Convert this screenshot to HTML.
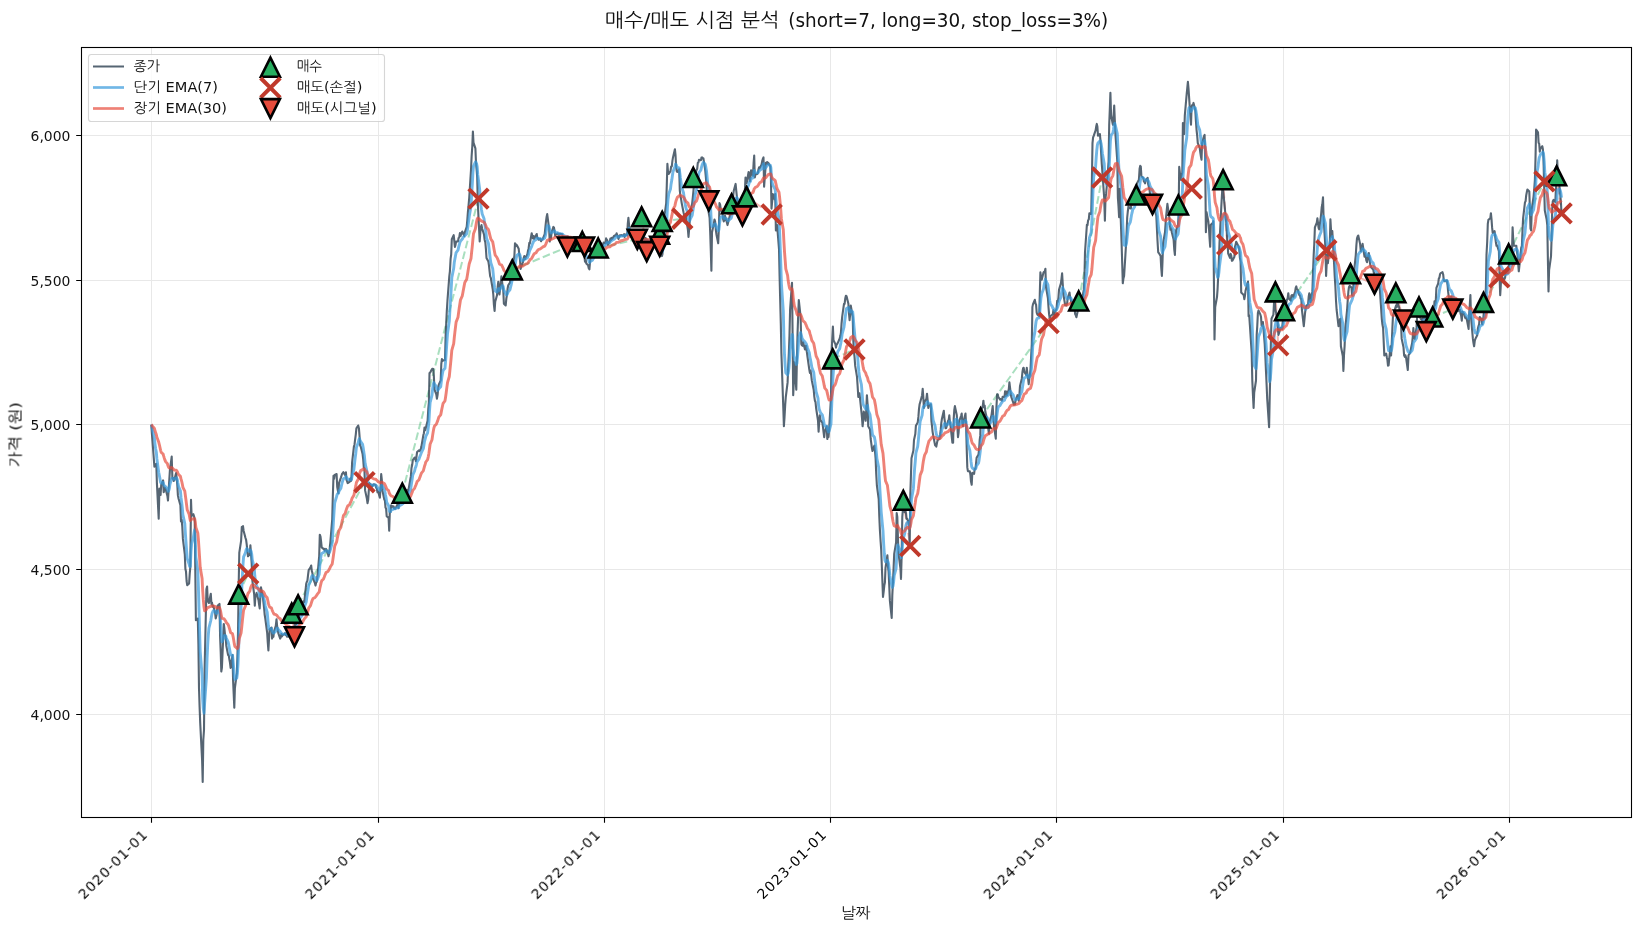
<!DOCTYPE html><html><head><meta charset="utf-8"><title>chart</title><style>html,body{margin:0;padding:0;background:#fff}svg{display:block}</style></head><body><svg width="1641" height="930" viewBox="0 0 1641 930" font-family='"DejaVu Sans","Liberation Sans","NanumGothic","Noto Sans CJK KR",sans-serif'>
<rect width="1641" height="930" fill="#fff"/>
<path d="M151.5,47.5V817.5M378.5,47.5V817.5M604.5,47.5V817.5M830.5,47.5V817.5M1056.5,47.5V817.5M1283.5,47.5V817.5M1509.5,47.5V817.5M81.5,714.5H1631.5M81.5,569.5H1631.5M81.5,424.5H1631.5M81.5,280.5H1631.5M81.5,135.5H1631.5" stroke="#e8e8e8" stroke-width="1" fill="none"/>
<clipPath id="c"><rect x="81.5" y="47.5" width="1550.0" height="770.0"/></clipPath><g clip-path="url(#c)">
<line x1="238.7" y1="594.1" x2="248.2" y2="573.7" stroke="#27ae60" stroke-opacity="0.4" stroke-width="2" stroke-dasharray="7.7,3.3"/>
<line x1="291.7" y1="613.2" x2="294.5" y2="636.8" stroke="#e74c3c" stroke-opacity="0.4" stroke-width="2" stroke-dasharray="7.7,3.3"/>
<line x1="298.1" y1="604.8" x2="364.5" y2="482.2" stroke="#27ae60" stroke-opacity="0.4" stroke-width="2" stroke-dasharray="7.7,3.3"/>
<line x1="402.3" y1="493.2" x2="478.5" y2="198.6" stroke="#27ae60" stroke-opacity="0.4" stroke-width="2" stroke-dasharray="7.7,3.3"/>
<line x1="512.3" y1="269.9" x2="567.4" y2="247" stroke="#27ae60" stroke-opacity="0.4" stroke-width="2" stroke-dasharray="7.7,3.3"/>
<line x1="582.3" y1="241.5" x2="584.5" y2="247" stroke="#e74c3c" stroke-opacity="0.4" stroke-width="2" stroke-dasharray="7.7,3.3"/>
<line x1="598.2" y1="248" x2="637.3" y2="239.3" stroke="#27ae60" stroke-opacity="0.4" stroke-width="2" stroke-dasharray="7.7,3.3"/>
<line x1="641.6" y1="216.8" x2="646.7" y2="251.6" stroke="#e74c3c" stroke-opacity="0.4" stroke-width="2" stroke-dasharray="7.7,3.3"/>
<line x1="659.5" y1="234.2" x2="659.7" y2="246.3" stroke="#e74c3c" stroke-opacity="0.4" stroke-width="2" stroke-dasharray="7.7,3.3"/>
<line x1="662.2" y1="221.4" x2="682.3" y2="218.7" stroke="#27ae60" stroke-opacity="0.4" stroke-width="2" stroke-dasharray="7.7,3.3"/>
<line x1="693.3" y1="177.5" x2="708.8" y2="200.9" stroke="#e74c3c" stroke-opacity="0.4" stroke-width="2" stroke-dasharray="7.7,3.3"/>
<line x1="731.6" y1="203.8" x2="742.4" y2="215.9" stroke="#e74c3c" stroke-opacity="0.4" stroke-width="2" stroke-dasharray="7.7,3.3"/>
<line x1="746.6" y1="196.7" x2="771.7" y2="214.5" stroke="#e74c3c" stroke-opacity="0.4" stroke-width="2" stroke-dasharray="7.7,3.3"/>
<line x1="832.7" y1="358.9" x2="854.5" y2="349.5" stroke="#27ae60" stroke-opacity="0.4" stroke-width="2" stroke-dasharray="7.7,3.3"/>
<line x1="903.3" y1="500.3" x2="910.2" y2="546" stroke="#e74c3c" stroke-opacity="0.4" stroke-width="2" stroke-dasharray="7.7,3.3"/>
<line x1="980.6" y1="418" x2="1048.6" y2="323" stroke="#27ae60" stroke-opacity="0.4" stroke-width="2" stroke-dasharray="7.7,3.3"/>
<line x1="1078.7" y1="301" x2="1102.1" y2="177.5" stroke="#27ae60" stroke-opacity="0.4" stroke-width="2" stroke-dasharray="7.7,3.3"/>
<line x1="1136.3" y1="195.0" x2="1152.5" y2="204.3" stroke="#e74c3c" stroke-opacity="0.4" stroke-width="2" stroke-dasharray="7.7,3.3"/>
<line x1="1178.4" y1="205.0" x2="1191.7" y2="188.5" stroke="#27ae60" stroke-opacity="0.4" stroke-width="2" stroke-dasharray="7.7,3.3"/>
<line x1="1223.1" y1="179.7" x2="1227.2" y2="244.6" stroke="#e74c3c" stroke-opacity="0.4" stroke-width="2" stroke-dasharray="7.7,3.3"/>
<line x1="1275.4" y1="291.9" x2="1278.2" y2="345.3" stroke="#e74c3c" stroke-opacity="0.4" stroke-width="2" stroke-dasharray="7.7,3.3"/>
<line x1="1284.5" y1="310.8" x2="1326.3" y2="250.3" stroke="#27ae60" stroke-opacity="0.4" stroke-width="2" stroke-dasharray="7.7,3.3"/>
<line x1="1350.5" y1="273.8" x2="1374.5" y2="284.2" stroke="#e74c3c" stroke-opacity="0.4" stroke-width="2" stroke-dasharray="7.7,3.3"/>
<line x1="1395.8" y1="292.8" x2="1403.5" y2="320.0" stroke="#e74c3c" stroke-opacity="0.4" stroke-width="2" stroke-dasharray="7.7,3.3"/>
<line x1="1419" y1="307" x2="1426.3" y2="331.6" stroke="#e74c3c" stroke-opacity="0.4" stroke-width="2" stroke-dasharray="7.7,3.3"/>
<line x1="1432.7" y1="317" x2="1452.8" y2="309.1" stroke="#27ae60" stroke-opacity="0.4" stroke-width="2" stroke-dasharray="7.7,3.3"/>
<line x1="1483.5" y1="302.4" x2="1499.3" y2="277.3" stroke="#27ae60" stroke-opacity="0.4" stroke-width="2" stroke-dasharray="7.7,3.3"/>
<line x1="1508.6" y1="253.9" x2="1544.4" y2="181.4" stroke="#27ae60" stroke-opacity="0.4" stroke-width="2" stroke-dasharray="7.7,3.3"/>
<line x1="1556.6" y1="175.8" x2="1561.6" y2="213.4" stroke="#e74c3c" stroke-opacity="0.4" stroke-width="2" stroke-dasharray="7.7,3.3"/>
<path d="M151.3,424.6 L151.9,433.6 L152.5,441.1 L154.4,466.7 L155.0,465.3 L155.6,464.2 L156.3,463.9 L156.9,483.1 L158.7,518.8 L159.4,488.6 L160.0,489.4 L160.6,495.0 L161.2,485.0 L163.1,480.4 L163.7,492.3 L164.3,489.3 L164.9,487.7 L165.6,489.0 L167.4,495.9 L168.0,500.5 L168.6,490.4 L169.3,480.0 L169.9,470.3 L171.7,456.6 L172.4,478.6 L173.0,477.9 L173.6,480.9 L174.2,480.4 L176.1,473.1 L176.7,478.6 L177.3,485.0 L177.9,495.4 L178.6,498.7 L180.4,505.1 L181.0,521.5 L181.7,519.9 L182.3,527.0 L182.9,538.9 L184.8,554.4 L185.4,569.1 L186.0,571.6 L186.6,581.0 L187.2,585.2 L189.1,583.4 L189.7,574.3 L190.3,567.3 L191.0,499.9 L191.6,516.0 L193.4,514.2 L194.1,516.5 L194.7,519.7 L195.3,571.5 L195.9,620.3 L197.8,618.5 L198.4,644.1 L199.0,688.0 L199.6,706.9 L200.2,722.7 L202.1,760.0 L202.7,782.0 L203.3,740.0 L204.0,730.0 L204.6,669.7 L206.4,589.3 L207.1,586.5 L207.7,600.2 L208.3,601.9 L208.9,603.0 L210.8,593.8 L211.4,603.9 L212.0,602.6 L212.6,606.7 L213.3,605.7 L215.1,613.0 L215.7,618.5 L216.4,615.5 L217.0,611.1 L217.6,605.7 L219.5,603.9 L220.1,636.8 L220.7,651.7 L221.3,671.5 L221.9,667.9 L223.8,624.0 L224.4,628.5 L225.0,634.6 L225.7,636.8 L226.3,645.9 L228.1,655.1 L228.8,655.6 L229.4,659.6 L230.0,662.8 L230.6,667.9 L232.5,655.1 L233.1,680.7 L233.7,694.0 L234.3,707.7 L234.9,688.0 L236.8,673.3 L237.4,657.1 L238.0,633.1 L238.7,583.8 L239.3,552.6 L241.1,540.8 L241.8,527.0 L242.4,526.8 L243.0,526.1 L243.6,530.7 L245.5,538.0 L246.1,539.8 L246.7,544.4 L247.3,550.4 L248.0,556.3 L249.8,554.4 L250.4,545.3 L251.1,555.3 L251.7,563.6 L252.3,580.0 L254.2,594.7 L254.8,605.7 L255.4,596.6 L256.0,595.5 L256.6,592.9 L258.5,600.2 L259.1,604.7 L259.7,608.4 L260.3,597.8 L261.0,587.4 L262.8,596.6 L263.4,602.0 L264.1,608.1 L264.7,614.8 L265.3,618.5 L267.2,633.1 L267.8,642.8 L268.4,650.5 L269.0,639.2 L269.6,629.5 L271.5,627.6 L272.1,638.6 L272.7,636.1 L273.4,636.8 L274.0,631.5 L275.8,625.8 L276.5,619.4 L277.1,625.8 L277.7,629.5 L278.3,633.1 L280.2,638.6 L280.8,637.2 L281.4,634.0 L282.0,636.4 L282.7,635.0 L284.5,634.1 L285.1,633.1 L285.8,635.1 L286.4,634.3 L287.0,636.8 L288.9,635.8 L289.5,637.1 L290.1,633.2 L290.7,634.0 L291.3,633.1 L293.2,628.7 L293.8,633.7 L294.4,626.6 L295.0,621.9 L295.7,625.0 L297.5,620.3 L298.1,618.6 L298.8,617.0 L299.4,611.8 L300.0,609.8 L301.9,607.2 L302.5,605.7 L303.1,601.6 L303.7,601.0 L304.3,602.0 L306.2,583.8 L306.8,581.9 L307.4,580.8 L308.1,574.6 L308.7,570.0 L310.5,567.3 L311.2,565.5 L311.8,571.0 L312.4,572.8 L313.0,578.3 L314.9,583.1 L315.5,585.6 L316.1,582.7 L316.7,581.9 L317.4,576.5 L319.2,556.0 L319.8,534.7 L320.5,536.7 L321.1,541.6 L321.7,547.4 L323.5,548.9 L324.2,548.9 L324.8,550.8 L325.4,550.1 L326.0,548.9 L327.9,553.5 L328.5,556.3 L329.1,553.8 L329.7,548.6 L330.4,541.6 L332.2,519.7 L332.8,497.1 L333.5,475.8 L334.1,478.8 L334.7,474.9 L336.6,474.0 L337.2,486.8 L337.8,490.4 L338.4,493.2 L339.0,483.1 L340.9,477.6 L341.5,475.7 L342.1,473.7 L342.8,473.1 L343.4,472.2 L345.2,475.1 L345.9,472.2 L346.5,479.8 L347.1,481.3 L347.7,483.1 L349.6,481.9 L350.2,478.6 L350.8,481.0 L351.4,479.5 L352.1,462.5 L353.9,446.6 L354.5,444.7 L355.1,439.7 L355.8,434.3 L356.4,428.3 L358.2,425.5 L358.9,428.2 L359.5,435.6 L360.1,445.5 L360.7,446.6 L362.6,454.1 L363.2,459.4 L363.8,467.3 L364.4,468.5 L365.1,490.4 L366.9,498.8 L367.5,503.2 L368.2,499.9 L368.8,490.4 L369.4,483.1 L371.3,485.4 L371.9,486.8 L372.5,486.0 L373.1,484.7 L373.7,484.2 L375.6,485.0 L376.2,487.9 L376.8,488.6 L377.5,492.3 L378.1,491.4 L379.9,497.8 L380.6,486.5 L381.2,474.0 L381.8,479.7 L382.4,490.4 L384.3,499.6 L384.9,500.5 L385.5,507.6 L386.1,508.7 L386.7,516.2 L388.6,517.9 L389.2,530.7 L389.8,512.4 L390.5,512.2 L391.1,505.4 L392.9,506.9 L393.6,506.4 L394.2,508.6 L394.8,508.7 L395.4,508.6 L397.3,504.8 L397.9,505.1 L398.5,508.3 L399.1,502.9 L399.8,502.3 L401.6,501.4 L402.2,502.5 L402.9,502.4 L403.5,495.6 L404.1,495.4 L406.0,493.4 L406.6,492.1 L407.2,489.9 L407.8,492.3 L408.4,490.4 L410.3,479.5 L410.9,476.2 L411.5,467.9 L412.2,464.8 L412.8,460.1 L414.6,457.5 L415.2,457.8 L415.9,461.2 L416.5,456.5 L417.1,452.0 L419.0,450.4 L419.6,451.1 L420.2,450.0 L420.8,448.9 L421.4,446.6 L423.3,435.3 L423.9,433.2 L424.5,427.5 L425.2,430.3 L425.8,428.0 L427.6,420.7 L428.3,408.9 L428.9,402.4 L429.5,373.1 L430.1,372.7 L432.0,369.1 L432.6,368.7 L433.2,368.9 L433.8,375.0 L434.5,389.6 L436.3,394.3 L436.9,398.7 L437.6,394.9 L438.2,387.8 L438.8,384.6 L440.7,380.4 L441.3,364.0 L441.9,359.1 L442.5,361.1 L443.1,360.3 L445.0,360.3 L445.6,336.6 L446.2,323.9 L446.8,311.0 L447.5,300.0 L449.3,276.3 L449.9,271.3 L450.6,258.9 L451.2,254.3 L451.8,239.3 L453.7,235.1 L454.3,240.9 L454.9,247.0 L455.5,244.9 L456.1,241.5 L458.0,241.4 L458.6,237.9 L459.2,237.7 L459.9,233.1 L460.5,236.0 L462.3,231.5 L463.0,233.4 L463.6,234.2 L464.2,236.0 L464.8,232.4 L466.7,226.9 L467.3,220.1 L467.9,212.0 L468.5,206.1 L469.2,198.0 L471.0,170.0 L471.6,156.6 L472.3,146.3 L472.9,131.5 L473.5,142.6 L475.4,148.3 L476.0,162.9 L476.6,169.4 L477.2,177.5 L477.8,203.1 L479.7,241.5 L480.3,232.4 L480.9,226.9 L481.5,225.1 L482.2,228.7 L484.0,234.4 L484.6,239.7 L485.3,242.2 L485.9,248.8 L486.5,258.0 L488.4,261.6 L489.0,265.6 L489.6,271.3 L490.2,276.3 L490.8,277.8 L492.7,289.0 L493.3,294.5 L493.9,304.7 L494.6,311.0 L495.2,301.8 L497.0,295.3 L497.7,286.7 L498.3,281.7 L498.9,289.5 L499.5,294.5 L501.4,276.3 L502.0,280.9 L502.6,286.3 L503.2,289.0 L503.9,303.7 L505.7,305.5 L506.3,298.8 L507.0,294.5 L507.6,288.8 L508.2,285.4 L510.0,282.7 L510.7,276.3 L511.3,276.0 L511.9,270.6 L512.5,268.9 L514.4,255.5 L515.0,243.3 L515.6,246.2 L516.2,244.5 L516.9,245.2 L518.7,248.8 L519.3,254.3 L520.0,259.5 L520.6,268.9 L521.2,267.0 L523.1,261.6 L523.7,258.0 L524.3,256.1 L524.9,259.2 L525.5,258.0 L527.4,254.2 L528.0,250.7 L528.6,248.5 L529.3,242.9 L529.9,243.3 L531.7,233.3 L532.4,236.5 L533.0,238.4 L533.6,236.0 L534.2,238.9 L536.1,235.1 L536.7,234.0 L537.3,237.9 L537.9,238.1 L538.5,239.7 L540.4,238.8 L541.0,241.3 L541.6,239.8 L542.3,239.7 L542.9,238.7 L544.7,234.2 L545.4,227.1 L546.0,221.4 L546.6,217.0 L547.2,214.1 L549.1,228.7 L549.7,241.5 L550.3,237.5 L550.9,238.8 L551.6,232.4 L553.4,226.9 L554.0,227.6 L554.7,232.4 L555.3,236.0 L555.9,234.2 L557.8,233.4 L558.4,234.8 L559.0,235.1 L559.6,233.9 L560.2,233.9 L562.1,234.2 L562.7,236.0 L563.3,237.6 L564.0,237.8 L564.6,237.1 L566.4,237.9 L567.1,238.0 L567.7,236.7 L568.3,240.2 L568.9,239.9 L570.8,240.5 L571.4,238.8 L572.0,239.7 L572.6,242.0 L573.2,243.1 L575.1,238.8 L575.7,242.4 L576.3,244.9 L577.0,243.3 L577.6,247.4 L579.4,244.5 L580.1,244.2 L580.7,249.5 L581.3,248.4 L581.9,248.8 L583.8,254.1 L584.4,256.1 L585.0,261.7 L585.6,259.2 L586.3,263.5 L588.1,265.3 L588.7,268.1 L589.4,269.3 L590.0,262.2 L590.6,258.0 L592.5,256.2 L593.1,254.3 L593.7,254.3 L594.3,251.4 L594.9,250.7 L596.8,252.7 L597.4,249.7 L598.0,248.8 L598.7,248.9 L599.3,245.6 L601.1,243.4 L601.7,244.9 L602.4,245.9 L603.0,244.7 L603.6,242.5 L605.5,243.3 L606.1,238.4 L606.7,239.7 L607.3,240.5 L607.9,244.9 L609.8,241.5 L610.4,238.5 L611.0,240.1 L611.7,237.9 L612.3,238.9 L614.1,235.9 L614.8,236.0 L615.4,235.3 L616.0,235.0 L616.6,233.3 L618.5,238.9 L619.1,236.9 L619.7,235.4 L620.3,235.6 L621.0,235.1 L622.8,235.7 L623.4,235.4 L624.1,234.2 L624.7,236.9 L625.3,234.5 L627.2,235.1 L627.8,223.6 L628.4,217.8 L629.0,224.1 L629.6,234.2 L631.5,236.6 L632.1,237.0 L632.7,237.9 L633.3,237.8 L634.0,238.1 L635.8,240.8 L636.4,247.3 L637.1,241.5 L637.7,247.0 L638.3,246.9 L640.2,244.3 L640.8,242.0 L641.4,242.5 L642.0,239.7 L642.6,240.7 L644.5,242.3 L645.1,237.8 L645.7,238.2 L646.4,239.9 L647.0,239.7 L648.8,242.5 L649.5,241.6 L650.1,239.6 L650.7,239.1 L651.3,241.5 L653.2,243.1 L653.8,241.4 L654.4,244.4 L655.0,245.8 L655.7,248.0 L657.5,247.0 L658.1,249.8 L658.8,248.6 L659.4,251.7 L660.0,254.2 L661.9,256.1 L662.5,253.9 L663.1,239.7 L663.7,228.4 L664.3,217.1 L666.2,203.1 L666.8,184.9 L667.4,163.8 L668.0,171.8 L668.7,173.9 L670.5,171.1 L671.1,166.6 L671.8,166.5 L672.4,160.9 L673.0,157.4 L674.9,149.2 L675.5,154.8 L676.1,166.6 L676.7,171.1 L677.3,172.0 L679.2,169.3 L679.8,190.3 L680.4,195.8 L681.1,199.2 L681.7,203.1 L683.5,212.3 L684.2,215.2 L684.8,217.3 L685.4,217.1 L686.0,217.8 L687.9,229.7 L688.5,236.9 L689.1,229.6 L689.7,221.4 L690.4,211.5 L692.2,203.1 L692.8,197.7 L693.5,190.3 L694.1,182.9 L694.7,177.2 L696.5,170.2 L697.2,168.8 L697.8,162.9 L698.4,162.6 L699.0,159.8 L700.9,160.2 L701.5,157.6 L702.1,157.4 L702.7,158.5 L703.4,158.3 L705.2,170.2 L705.8,176.4 L706.5,184.8 L707.1,198.8 L707.7,206.8 L709.6,217.9 L710.2,232.4 L710.8,250.4 L711.4,270.8 L712.0,232.4 L713.9,223.2 L714.5,219.5 L715.1,221.4 L715.8,229.5 L716.4,234.2 L718.2,243.3 L718.9,227.4 L719.5,203.1 L720.1,204.4 L720.7,208.6 L722.6,214.1 L723.2,219.4 L723.8,221.4 L724.4,220.1 L725.0,215.9 L726.9,222.5 L727.5,225.1 L728.1,222.7 L728.8,218.8 L729.4,217.4 L731.2,212.3 L731.9,207.4 L732.5,201.7 L733.1,196.3 L733.7,191.1 L735.6,183.9 L736.2,190.1 L736.8,195.8 L737.4,201.6 L738.1,206.8 L739.9,202.2 L740.5,208.0 L741.2,202.8 L741.8,203.1 L742.4,196.9 L744.3,194.3 L744.9,190.3 L745.5,177.5 L746.1,181.7 L746.7,183.0 L748.6,172.0 L749.2,172.8 L749.8,181.2 L750.5,177.5 L751.1,170.2 L752.9,175.7 L753.6,163.2 L754.2,155.6 L754.8,177.5 L755.4,174.5 L757.3,173.9 L757.9,172.8 L758.5,169.3 L759.1,167.3 L759.7,168.4 L761.6,164.5 L762.2,161.1 L762.8,159.0 L763.5,157.4 L764.1,186.7 L765.9,162.9 L766.6,162.8 L767.2,162.0 L767.8,164.3 L768.4,162.9 L770.3,166.6 L770.9,177.5 L771.5,208.6 L772.1,202.2 L772.8,194.0 L774.6,199.5 L775.2,194.0 L775.9,230.5 L776.5,230.2 L777.1,225.1 L779.0,248.8 L779.6,276.3 L780.2,300.1 L780.8,323.4 L781.4,353.1 L783.3,408.0 L783.9,426.3 L784.5,417.5 L785.2,404.9 L785.8,397.0 L787.6,382.4 L788.2,366.3 L788.9,351.7 L789.5,334.8 L790.1,309.5 L792.0,282.7 L792.6,334.8 L793.2,395.2 L793.8,382.3 L794.4,362.3 L796.3,389.7 L796.9,360.3 L797.5,334.8 L798.2,315.0 L798.8,300.1 L800.6,316.6 L801.3,344.0 L801.9,345.3 L802.5,345.8 L803.1,342.2 L805.0,349.5 L805.6,346.0 L806.2,345.8 L806.8,351.7 L807.5,356.8 L809.3,369.6 L809.9,372.9 L810.6,370.6 L811.2,375.1 L811.8,380.4 L813.7,389.7 L814.3,396.6 L814.9,400.7 L815.5,402.0 L816.1,408.0 L818.0,420.7 L818.6,431.7 L819.2,422.0 L819.8,415.3 L820.5,420.2 L822.3,422.6 L822.9,426.3 L823.6,432.3 L824.2,437.2 L824.8,431.5 L826.7,426.3 L827.3,439.0 L827.9,435.3 L828.5,437.1 L829.1,429.9 L831.0,397.0 L831.6,353.1 L832.2,339.7 L832.9,326.6 L833.5,340.3 L835.3,343.9 L836.0,347.6 L836.6,344.6 L837.2,344.0 L837.8,342.8 L839.7,338.5 L840.3,336.1 L840.9,333.0 L841.5,324.2 L842.2,316.6 L844.0,303.8 L844.6,303.9 L845.3,298.2 L845.9,295.8 L846.5,296.1 L848.4,303.8 L849.0,313.7 L849.6,320.2 L850.2,314.0 L850.8,305.6 L852.7,316.6 L853.3,340.3 L853.9,351.5 L854.5,356.5 L855.2,365.9 L857.0,376.9 L857.6,385.8 L858.3,397.0 L858.9,394.7 L859.5,393.3 L861.4,411.6 L862.0,417.9 L862.6,426.3 L863.2,420.3 L863.8,411.6 L865.7,420.8 L866.3,408.6 L866.9,395.2 L867.6,404.3 L868.2,426.3 L870.0,429.4 L870.7,439.0 L871.3,443.3 L871.9,448.0 L872.5,451.0 L874.4,445.5 L875.0,451.4 L875.6,458.3 L876.2,473.4 L876.9,485.7 L878.7,499.0 L879.3,516.8 L879.9,529.9 L880.6,541.3 L881.2,549.7 L883.0,596.9 L883.7,591.4 L884.3,585.6 L884.9,582.6 L885.5,568.0 L887.4,555.2 L888.0,566.7 L888.6,571.6 L889.2,584.8 L889.9,600.9 L891.7,618.0 L892.3,595.4 L893.0,581.1 L893.6,568.0 L894.2,553.8 L896.1,542.4 L896.7,513.1 L897.3,516.8 L897.9,536.8 L898.5,553.3 L900.4,568.0 L901.0,578.9 L901.6,557.0 L902.3,516.8 L902.9,509.5 L904.7,512.1 L905.4,510.1 L906.0,513.1 L906.6,518.9 L907.2,518.6 L909.1,524.1 L909.7,546.0 L910.3,494.8 L910.9,476.6 L911.5,458.3 L913.4,450.6 L914.0,440.0 L914.6,437.2 L915.3,434.1 L915.9,425.8 L917.7,422.6 L918.4,416.9 L919.0,408.9 L919.6,404.3 L920.2,402.2 L922.1,395.2 L922.7,388.8 L923.3,397.0 L923.9,408.0 L924.6,402.0 L926.4,398.8 L927.0,393.7 L927.7,400.9 L928.3,408.0 L928.9,405.2 L930.8,404.3 L931.4,420.8 L932.0,426.0 L932.6,431.8 L933.2,435.4 L935.1,445.4 L935.7,445.5 L936.3,446.6 L937.0,442.7 L937.6,440.2 L939.4,439.0 L940.1,434.9 L940.7,429.9 L941.3,423.1 L941.9,418.9 L943.8,410.7 L944.4,418.1 L945.0,422.6 L945.6,428.3 L946.2,428.1 L948.1,420.8 L948.7,419.8 L949.3,415.3 L950.0,423.0 L950.6,426.3 L952.4,442.7 L953.1,442.7 L953.7,418.9 L954.3,409.8 L954.9,406.1 L956.8,415.3 L957.4,427.1 L958.0,437.2 L958.6,432.7 L959.3,420.8 L961.1,415.8 L961.7,413.5 L962.4,423.4 L963.0,426.3 L963.6,421.5 L965.5,413.5 L966.1,426.3 L966.7,448.1 L967.3,467.4 L967.9,471.1 L969.8,471.4 L970.4,474.7 L971.0,481.6 L971.7,484.8 L972.3,472.9 L974.1,473.8 L974.7,468.8 L975.4,469.0 L976.0,463.8 L976.6,457.8 L978.5,454.6 L979.1,449.2 L979.7,440.0 L980.3,435.4 L980.9,411.6 L982.8,405.6 L983.4,400.7 L984.0,407.3 L984.7,405.7 L985.3,411.6 L987.1,418.9 L987.8,423.4 L988.4,430.0 L989.0,433.6 L989.6,421.9 L991.5,415.3 L992.1,410.7 L992.7,406.1 L993.3,416.2 L994.0,426.3 L995.8,438.7 L996.4,408.0 L997.1,394.3 L997.7,394.3 L998.3,397.0 L1000.2,399.7 L1000.8,399.0 L1001.4,399.6 L1002.0,400.7 L1002.6,396.9 L1004.5,397.0 L1005.1,391.2 L1005.7,396.0 L1006.3,391.5 L1007.0,395.2 L1008.8,389.3 L1009.4,382.4 L1010.1,388.2 L1010.7,393.5 L1011.3,397.0 L1013.2,402.5 L1013.8,404.8 L1014.4,402.5 L1015.0,404.3 L1015.6,400.4 L1017.5,395.2 L1018.1,397.0 L1018.7,400.7 L1019.4,395.4 L1020.0,386.0 L1021.8,378.7 L1022.5,371.6 L1023.1,368.1 L1023.7,367.8 L1024.3,371.8 L1026.2,375.1 L1026.8,367.8 L1027.4,374.2 L1028.0,377.9 L1028.7,384.2 L1030.5,369.6 L1031.1,357.0 L1031.8,344.0 L1032.4,307.1 L1033.0,304.1 L1034.8,299.8 L1035.5,303.5 L1036.1,304.8 L1036.7,312.7 L1037.3,314.4 L1039.2,316.3 L1039.8,293.9 L1040.4,272.4 L1041.0,277.0 L1041.7,279.7 L1043.5,272.4 L1044.1,271.8 L1044.8,271.3 L1045.4,268.7 L1046.0,287.0 L1047.9,298.0 L1048.5,307.3 L1049.1,314.4 L1049.7,318.5 L1050.3,316.3 L1052.2,314.7 L1052.8,314.4 L1053.4,310.1 L1054.1,314.6 L1054.7,312.6 L1056.5,308.9 L1057.2,300.8 L1057.8,301.8 L1058.4,298.0 L1059.0,289.9 L1060.9,283.3 L1061.5,278.8 L1062.1,273.3 L1062.7,283.2 L1063.4,294.3 L1065.2,305.3 L1065.8,304.3 L1066.4,305.5 L1067.1,303.5 L1067.7,298.3 L1069.5,292.5 L1070.2,297.8 L1070.8,299.8 L1071.4,303.3 L1072.0,303.5 L1073.9,307.1 L1074.5,306.8 L1075.1,314.0 L1075.7,315.1 L1076.4,317.2 L1078.2,308.9 L1078.8,309.2 L1079.5,304.4 L1080.1,303.3 L1080.7,297.4 L1082.6,298.0 L1083.2,292.9 L1083.8,289.9 L1084.4,279.7 L1085.0,252.3 L1086.9,224.8 L1087.5,225.2 L1088.1,220.3 L1088.8,219.4 L1089.4,213.2 L1091.2,213.9 L1091.9,179.7 L1092.5,143.1 L1093.1,137.3 L1093.7,135.8 L1095.6,130.3 L1096.2,126.6 L1096.8,123.9 L1097.4,126.7 L1098.0,135.8 L1099.9,134.0 L1100.5,140.9 L1101.1,152.3 L1101.8,164.2 L1102.4,172.4 L1104.2,198.0 L1104.9,220.8 L1105.5,198.0 L1106.1,193.9 L1106.7,187.0 L1108.6,161.4 L1109.2,124.8 L1109.8,109.9 L1110.4,92.9 L1111.1,115.7 L1112.9,124.8 L1113.5,117.5 L1114.2,105.6 L1114.8,120.1 L1115.4,134.0 L1117.3,161.4 L1117.9,198.0 L1118.5,206.2 L1119.1,217.2 L1119.7,188.8 L1121.6,243.1 L1122.2,263.2 L1122.8,283.3 L1123.5,278.1 L1124.1,276.0 L1125.9,246.8 L1126.6,232.5 L1127.2,217.5 L1127.8,211.5 L1128.4,206.6 L1130.3,208.4 L1130.9,208.4 L1131.5,201.3 L1132.1,204.5 L1132.7,198.8 L1134.6,198.0 L1135.2,194.0 L1135.8,188.3 L1136.5,185.4 L1137.1,183.3 L1138.9,179.7 L1139.6,168.7 L1140.2,165.9 L1140.8,166.5 L1141.4,176.0 L1143.3,178.1 L1143.9,181.5 L1144.5,181.8 L1145.1,183.3 L1145.8,180.1 L1147.6,177.9 L1148.2,184.3 L1148.9,187.0 L1149.5,189.8 L1150.1,194.3 L1152.0,201.4 L1152.6,199.8 L1153.2,203.1 L1153.8,208.9 L1154.4,208.9 L1156.3,215.7 L1156.9,228.1 L1157.5,240.8 L1158.2,252.3 L1158.8,253.0 L1160.6,255.9 L1161.2,267.5 L1161.9,276.0 L1162.5,261.4 L1163.1,243.1 L1165.0,232.2 L1165.6,223.2 L1166.2,215.7 L1166.8,209.5 L1167.4,203.8 L1169.3,217.5 L1169.9,224.8 L1170.5,229.8 L1171.2,228.5 L1171.8,232.2 L1173.6,239.5 L1174.3,249.9 L1174.9,255.0 L1175.5,239.5 L1176.1,230.3 L1178.0,224.8 L1178.6,215.7 L1179.2,166.9 L1179.8,172.2 L1180.5,179.7 L1182.3,172.4 L1182.9,123.0 L1183.6,130.7 L1184.2,134.0 L1184.8,115.7 L1186.7,93.8 L1187.3,87.9 L1187.9,81.9 L1188.5,88.4 L1189.1,97.4 L1191.0,124.8 L1191.6,106.6 L1192.2,105.1 L1192.8,105.6 L1193.5,102.9 L1195.3,110.2 L1195.9,120.7 L1196.6,130.3 L1197.2,135.8 L1197.8,143.1 L1199.7,147.8 L1200.3,152.3 L1200.9,156.3 L1201.5,159.6 L1202.1,143.1 L1204.0,136.1 L1204.6,134.9 L1205.2,161.4 L1205.9,232.2 L1206.5,212.0 L1208.3,221.2 L1209.0,228.8 L1209.6,239.0 L1210.2,246.8 L1210.8,224.8 L1212.7,223.1 L1213.3,221.2 L1213.9,279.7 L1214.5,339.4 L1215.2,307.1 L1217.0,297.1 L1217.6,288.8 L1218.3,273.8 L1218.9,259.0 L1219.5,243.1 L1221.3,206.6 L1222.0,194.1 L1222.6,184.6 L1223.2,191.6 L1223.8,197.4 L1225.7,217.5 L1226.3,223.1 L1226.9,234.3 L1227.5,243.1 L1228.2,253.6 L1230.0,257.8 L1230.6,253.9 L1231.3,255.9 L1231.9,260.8 L1232.5,260.5 L1234.4,256.7 L1235.0,246.8 L1235.6,244.4 L1236.2,241.8 L1236.8,243.1 L1238.7,246.8 L1239.3,249.8 L1239.9,257.9 L1240.6,261.4 L1241.2,292.5 L1243.0,294.3 L1243.7,294.8 L1244.3,299.2 L1244.9,296.1 L1245.5,291.0 L1247.4,283.3 L1248.0,281.5 L1248.6,316.3 L1249.2,315.3 L1249.9,325.4 L1251.7,353.1 L1252.3,380.5 L1252.9,393.9 L1253.6,408.0 L1254.2,392.6 L1256.0,380.5 L1256.7,334.8 L1257.3,325.4 L1257.9,312.9 L1258.5,310.4 L1260.4,314.7 L1261.0,316.8 L1261.6,325.7 L1262.2,323.9 L1262.9,322.0 L1264.7,344.0 L1265.3,355.1 L1266.0,371.4 L1266.6,384.4 L1267.2,398.8 L1269.1,427.2 L1269.7,397.8 L1270.3,371.4 L1270.9,341.8 L1271.5,318.8 L1273.4,314.6 L1274.0,303.2 L1274.6,296.9 L1275.3,309.2 L1275.9,311.8 L1277.7,322.1 L1278.4,334.9 L1279.0,333.1 L1279.6,331.4 L1280.2,328.0 L1282.1,328.9 L1282.7,321.9 L1283.3,319.5 L1283.9,317.0 L1284.5,311.7 L1286.4,302.4 L1287.0,299.6 L1287.6,298.7 L1288.3,293.2 L1288.9,298.5 L1290.7,300.5 L1291.4,295.7 L1292.0,295.1 L1292.6,295.3 L1293.2,296.9 L1295.1,291.8 L1295.7,287.8 L1296.3,286.4 L1296.9,289.3 L1297.6,289.6 L1299.4,295.1 L1300.0,295.6 L1300.7,298.7 L1301.3,298.7 L1301.9,309.7 L1303.8,326.1 L1304.4,319.9 L1305.0,313.3 L1305.6,309.1 L1306.2,306.0 L1308.1,304.2 L1308.7,296.6 L1309.3,293.2 L1310.0,295.2 L1310.6,302.4 L1312.4,291.4 L1313.0,272.4 L1313.7,254.8 L1314.3,243.3 L1314.9,227.4 L1316.8,222.6 L1317.4,218.3 L1318.0,222.9 L1318.6,227.8 L1319.2,229.3 L1321.1,214.6 L1321.7,207.3 L1322.3,204.6 L1323.0,197.3 L1323.6,218.3 L1325.4,247.5 L1326.1,275.9 L1326.7,263.4 L1327.3,254.8 L1327.9,263.1 L1329.8,244.4 L1330.4,219.2 L1331.0,229.6 L1331.6,236.6 L1332.3,231.1 L1334.1,264.0 L1334.7,275.8 L1335.4,287.3 L1336.0,300.5 L1336.6,309.7 L1338.5,326.1 L1339.1,324.9 L1339.7,320.1 L1340.3,318.8 L1340.9,346.3 L1342.8,356.0 L1343.4,370.9 L1344.0,355.3 L1344.6,346.3 L1345.3,328.0 L1347.1,309.7 L1347.7,300.7 L1348.4,291.4 L1349.0,287.0 L1349.6,285.9 L1351.5,287.6 L1352.1,295.1 L1352.7,290.2 L1353.3,287.8 L1353.9,273.1 L1355.8,254.8 L1356.4,245.0 L1357.0,238.4 L1357.7,236.2 L1358.3,235.6 L1360.1,243.9 L1360.8,251.2 L1361.4,248.4 L1362.0,247.0 L1362.6,243.9 L1364.5,256.7 L1365.1,253.0 L1365.7,255.6 L1366.3,260.3 L1367.0,262.2 L1368.8,253.0 L1369.4,257.9 L1370.1,264.0 L1370.7,265.8 L1371.3,267.6 L1373.2,269.5 L1373.8,272.6 L1374.4,274.2 L1375.0,276.2 L1375.6,276.8 L1377.5,280.1 L1378.1,283.2 L1378.7,285.8 L1379.3,285.3 L1380.0,291.4 L1381.8,318.8 L1382.4,324.3 L1383.1,328.0 L1383.7,341.7 L1384.3,355.4 L1386.2,353.6 L1386.8,357.2 L1387.4,359.6 L1388.0,365.6 L1388.6,365.4 L1390.5,346.3 L1391.1,355.4 L1391.7,344.0 L1392.4,328.0 L1393.0,315.3 L1394.8,309.7 L1395.5,307.2 L1396.1,305.3 L1396.7,307.3 L1397.3,302.4 L1399.2,307.6 L1399.8,312.6 L1400.4,313.3 L1401.0,324.4 L1401.7,338.9 L1403.5,347.2 L1404.1,355.4 L1404.8,356.8 L1405.4,355.3 L1406.0,357.2 L1407.8,370.0 L1408.5,355.4 L1409.1,354.2 L1409.7,353.7 L1410.3,351.7 L1412.2,342.6 L1412.8,336.5 L1413.4,328.0 L1414.0,337.5 L1414.7,338.9 L1416.5,327.9 L1417.1,317.0 L1417.8,317.1 L1418.4,315.5 L1419.0,315.6 L1420.9,319.1 L1421.5,318.8 L1422.1,320.1 L1422.7,318.9 L1423.3,317.3 L1425.2,318.7 L1425.8,320.2 L1426.4,315.9 L1427.1,317.0 L1427.7,315.1 L1429.5,316.9 L1430.2,316.8 L1430.8,313.9 L1431.4,311.5 L1432.0,309.7 L1433.9,310.3 L1434.5,301.4 L1435.1,305.1 L1435.7,302.4 L1436.4,287.8 L1438.2,283.5 L1438.8,278.6 L1439.4,277.7 L1440.1,274.0 L1440.7,273.1 L1442.5,272.2 L1443.2,274.6 L1443.8,280.4 L1444.4,281.1 L1445.0,281.4 L1446.9,280.4 L1447.5,284.5 L1448.1,291.4 L1448.7,296.4 L1449.4,298.7 L1451.2,296.6 L1451.8,298.4 L1452.5,298.7 L1453.1,302.4 L1453.7,305.6 L1455.6,303.7 L1456.2,307.9 L1456.8,307.8 L1457.4,304.7 L1458.0,311.2 L1459.9,309.7 L1460.5,313.4 L1461.1,315.4 L1461.8,320.7 L1462.4,311.5 L1464.2,314.2 L1464.9,317.0 L1465.5,318.2 L1466.1,317.4 L1466.7,318.8 L1468.6,328.9 L1469.2,313.3 L1469.8,304.8 L1470.4,295.1 L1471.0,317.0 L1472.9,338.9 L1473.5,343.0 L1474.1,346.3 L1474.8,340.7 L1475.4,338.9 L1477.2,335.3 L1477.9,328.4 L1478.5,326.1 L1479.1,324.4 L1479.7,317.0 L1481.6,319.3 L1482.2,324.3 L1482.8,320.2 L1483.4,317.1 L1484.1,309.7 L1485.9,287.8 L1486.5,254.8 L1487.2,241.8 L1487.8,223.8 L1488.4,219.9 L1490.3,218.3 L1490.9,213.2 L1491.5,219.1 L1492.1,227.4 L1492.7,232.9 L1494.6,231.1 L1495.2,237.0 L1495.8,241.7 L1496.5,245.7 L1497.1,245.4 L1498.9,251.2 L1499.5,274.0 L1500.2,295.1 L1500.8,285.3 L1501.4,273.1 L1503.3,282.3 L1503.9,278.6 L1504.5,279.0 L1505.1,277.5 L1505.7,273.4 L1507.6,273.1 L1508.2,269.7 L1508.8,265.3 L1509.5,263.2 L1510.1,259.1 L1511.9,254.8 L1512.6,227.4 L1513.2,238.7 L1513.8,245.7 L1514.4,245.5 L1516.3,245.7 L1516.9,252.1 L1517.5,254.8 L1518.1,262.6 L1518.8,271.3 L1520.6,254.8 L1521.2,247.9 L1521.9,245.7 L1522.5,230.6 L1523.1,218.3 L1525.0,202.2 L1525.6,201.2 L1526.2,195.4 L1526.8,192.3 L1527.4,189.5 L1529.3,191.5 L1529.9,209.0 L1530.5,228.5 L1531.1,230.5 L1531.8,209.0 L1533.6,196.3 L1534.2,189.5 L1534.9,179.8 L1535.5,158.9 L1536.1,129.5 L1538.0,132.4 L1538.6,142.7 L1539.2,143.7 L1539.8,151.6 L1540.4,148.6 L1542.3,146.2 L1542.9,149.3 L1543.5,158.9 L1544.2,188.4 L1544.8,210.5 L1546.6,219.2 L1547.3,225.2 L1547.9,260.0 L1548.5,291.4 L1549.1,270.0 L1551.0,256.3 L1551.6,238.3 L1552.2,209.0 L1552.8,201.2 L1553.5,199.9 L1555.3,202.2 L1555.9,189.5 L1556.6,181.0 L1557.2,160.4 L1557.8,173.7 L1559.7,188.4 L1560.3,195.0 L1560.9,201.9 L1561.5,213.4" fill="none" stroke="#2c3e50" stroke-opacity="0.8" stroke-width="2.1" stroke-linejoin="round"/>
<path d="M151.3,424.6 L151.9,426.6 L152.5,429.8 L154.4,438.0 L155.0,444.1 L155.6,448.5 L156.3,452.0 L156.9,458.9 L158.7,472.2 L159.4,475.8 L160.0,478.9 L160.6,482.5 L161.2,483.0 L163.1,482.4 L163.7,484.6 L164.3,485.6 L164.9,486.1 L165.6,486.8 L167.4,488.8 L168.0,491.4 L168.6,491.2 L169.3,488.7 L169.9,484.6 L171.7,478.4 L172.4,478.4 L173.0,478.3 L173.6,478.9 L174.2,479.2 L176.1,477.9 L176.7,478.0 L177.3,479.6 L177.9,483.1 L178.6,486.5 L180.4,490.7 L181.0,497.5 L181.7,502.5 L182.3,507.9 L182.9,514.8 L184.8,523.6 L185.4,533.7 L186.0,542.1 L186.6,550.8 L187.2,558.4 L189.1,564.0 L189.7,566.3 L190.3,566.5 L191.0,551.7 L191.6,543.8 L193.4,537.2 L194.1,532.6 L194.7,529.7 L195.3,539.0 L195.9,557.1 L197.8,570.7 L198.4,587.0 L199.0,609.5 L199.6,631.1 L200.2,651.5 L202.1,675.6 L202.7,699.2 L203.3,708.3 L204.0,713.1 L204.6,703.5 L206.4,678.1 L207.1,657.7 L207.7,645.0 L208.3,635.4 L208.9,628.2 L210.8,620.5 L211.4,616.8 L212.0,613.7 L212.6,612.1 L213.3,610.7 L215.1,611.2 L215.7,612.8 L216.4,613.4 L217.0,612.9 L217.6,611.3 L219.5,609.7 L220.1,615.7 L220.7,623.7 L221.3,634.3 L221.9,641.8 L223.8,637.8 L224.4,635.7 L225.0,635.5 L225.7,635.8 L226.3,638.0 L228.1,641.8 L228.8,644.9 L229.4,648.2 L230.0,651.4 L230.6,655.1 L232.5,655.1 L233.1,660.8 L233.7,668.1 L234.3,676.9 L234.9,679.4 L236.8,678.0 L237.4,673.4 L238.0,664.4 L238.7,646.5 L239.3,625.6 L241.1,606.8 L241.8,589.1 L242.4,575.2 L243.0,564.3 L243.6,556.8 L245.5,552.6 L246.1,549.8 L246.7,548.6 L247.3,549.0 L248.0,550.6 L249.8,551.5 L250.4,550.1 L251.1,551.2 L251.7,554.0 L252.3,559.8 L254.2,567.5 L254.8,576.0 L255.4,580.6 L256.0,583.9 L256.6,585.9 L258.5,589.1 L259.1,592.6 L259.7,596.1 L260.3,596.5 L261.0,594.5 L262.8,594.9 L263.4,596.5 L264.1,599.1 L264.7,602.6 L265.3,606.1 L267.2,612.1 L267.8,618.9 L268.4,626.0 L269.0,628.9 L269.6,629.0 L271.5,628.7 L272.1,630.9 L272.7,632.1 L273.4,633.1 L274.0,632.8 L275.8,631.2 L276.5,628.6 L277.1,628.0 L277.7,628.3 L278.3,629.4 L280.2,631.4 L280.8,632.7 L281.4,633.0 L282.0,633.8 L282.7,634.0 L284.5,634.1 L285.1,633.8 L285.8,634.1 L286.4,634.2 L287.0,634.7 L288.9,635.0 L289.5,635.5 L290.1,634.9 L290.7,634.7 L291.3,634.4 L293.2,633.1 L293.8,633.2 L294.4,631.8 L295.0,629.6 L295.7,628.6 L297.5,626.7 L298.1,624.9 L298.8,623.2 L299.4,620.6 L300.0,618.2 L301.9,615.8 L302.5,613.5 L303.1,610.9 L303.7,608.7 L304.3,607.2 L306.2,602.0 L306.8,597.5 L307.4,593.8 L308.1,589.5 L308.7,585.2 L310.5,581.2 L311.2,577.7 L311.8,576.2 L312.4,575.5 L313.0,576.1 L314.9,577.6 L315.5,579.4 L316.1,580.1 L316.7,580.5 L317.4,579.6 L319.2,574.4 L319.8,565.6 L320.5,559.2 L321.1,555.3 L321.7,553.5 L323.5,552.5 L324.2,551.7 L324.8,551.5 L325.4,551.2 L326.0,550.7 L327.9,551.3 L328.5,552.4 L329.1,552.7 L329.7,551.8 L330.4,549.5 L332.2,542.9 L332.8,532.7 L333.5,520.1 L334.1,510.9 L334.7,502.9 L336.6,496.5 L337.2,494.3 L337.8,493.5 L338.4,493.4 L339.0,491.1 L340.9,488.1 L341.5,485.4 L342.1,482.8 L342.8,480.6 L343.4,478.7 L345.2,477.9 L345.9,476.6 L346.5,477.4 L347.1,478.2 L347.7,479.3 L349.6,479.9 L350.2,479.6 L350.8,479.9 L351.4,479.8 L352.1,476.0 L353.9,469.4 L354.5,463.9 L355.1,458.6 L355.8,453.2 L356.4,447.6 L358.2,442.7 L358.9,439.5 L359.5,438.6 L360.1,440.2 L360.7,441.6 L362.6,444.4 L363.2,447.7 L363.8,452.1 L364.4,455.7 L365.1,463.4 L366.9,471.3 L367.5,478.4 L368.2,483.2 L368.8,484.8 L369.4,484.4 L371.3,484.6 L371.9,485.1 L372.5,485.3 L373.1,485.2 L373.7,485.0 L375.6,485.0 L376.2,485.6 L376.8,486.3 L377.5,487.6 L378.1,488.5 L379.9,490.5 L380.6,489.6 L381.2,486.2 L381.8,484.7 L382.4,486.0 L384.3,489.0 L384.9,491.6 L385.5,495.1 L386.1,498.1 L386.7,502.2 L388.6,505.7 L389.2,511.2 L389.8,511.5 L390.5,511.6 L391.1,510.2 L392.9,509.5 L393.6,508.8 L394.2,508.8 L394.8,508.7 L395.4,508.7 L397.3,507.8 L397.9,507.2 L398.5,507.5 L399.1,506.4 L399.8,505.5 L401.6,504.6 L402.2,504.1 L402.9,503.7 L403.5,501.9 L404.1,500.5 L406.0,498.9 L406.6,497.4 L407.2,495.7 L407.8,495.0 L408.4,494.0 L410.3,490.7 L410.9,487.5 L411.5,483.2 L412.2,479.1 L412.8,474.9 L414.6,471.0 L415.2,468.1 L415.9,466.6 L416.5,464.3 L417.1,461.6 L419.0,459.1 L419.6,457.3 L420.2,455.7 L420.8,454.2 L421.4,452.5 L423.3,448.7 L423.9,445.2 L424.5,441.3 L425.2,438.9 L425.8,436.4 L427.6,432.9 L428.3,427.6 L428.9,422.0 L429.5,411.1 L430.1,402.6 L432.0,395.1 L432.6,389.3 L433.2,384.7 L433.8,382.6 L434.5,384.1 L436.3,386.4 L436.9,389.1 L437.6,390.4 L438.2,389.8 L438.8,388.7 L440.7,386.8 L441.3,381.8 L441.9,376.7 L442.5,373.3 L443.1,370.4 L445.0,368.2 L445.6,361.1 L446.2,352.9 L446.8,343.6 L447.5,333.9 L449.3,321.1 L449.9,310.0 L450.6,298.7 L451.2,288.8 L451.8,277.8 L453.7,268.3 L454.3,262.2 L454.9,258.9 L455.5,255.7 L456.1,252.6 L458.0,250.1 L458.6,247.4 L459.2,245.2 L459.9,242.5 L460.5,241.1 L462.3,239.0 L463.0,237.7 L463.6,236.9 L464.2,236.7 L464.8,235.8 L466.7,233.8 L467.3,230.8 L467.9,226.6 L468.5,222.0 L469.2,216.7 L471.0,206.3 L471.6,195.3 L472.3,184.4 L472.9,172.6 L473.5,166.0 L475.4,162.0 L476.0,162.2 L476.6,163.8 L477.2,166.9 L477.8,174.9 L479.7,189.7 L480.3,199.2 L480.9,205.4 L481.5,209.7 L482.2,214.0 L484.0,218.5 L484.6,223.2 L485.3,227.4 L485.9,232.2 L486.5,237.9 L488.4,243.2 L489.0,248.2 L489.6,253.3 L490.2,258.4 L490.8,262.7 L492.7,268.6 L493.3,274.3 L493.9,281.1 L494.6,287.7 L495.2,290.9 L497.0,291.9 L497.7,290.7 L498.3,288.7 L498.9,288.9 L499.5,290.2 L501.4,287.1 L502.0,285.7 L502.6,285.8 L503.2,286.5 L503.9,290.3 L505.7,293.7 L506.3,294.8 L507.0,294.8 L507.6,293.4 L508.2,291.7 L510.0,289.7 L510.7,286.7 L511.3,284.3 L511.9,281.3 L512.5,278.5 L514.4,273.4 L515.0,266.7 L515.6,262.1 L516.2,258.2 L516.9,255.3 L518.7,253.9 L519.3,254.0 L520.0,255.2 L520.6,258.3 L521.2,260.2 L523.1,260.5 L523.7,260.0 L524.3,259.1 L524.9,259.1 L525.5,258.9 L527.4,257.8 L528.0,256.2 L528.6,254.5 L529.3,251.9 L529.9,250.0 L531.7,246.3 L532.4,244.1 L533.0,242.9 L533.6,241.3 L534.2,240.8 L536.1,239.5 L536.7,238.3 L537.3,238.2 L537.9,238.2 L538.5,238.5 L540.4,238.6 L541.0,239.2 L541.6,239.3 L542.3,239.4 L542.9,239.2 L544.7,238.1 L545.4,235.7 L546.0,232.5 L546.6,229.1 L547.2,225.7 L549.1,226.4 L549.7,229.8 L550.3,231.5 L550.9,233.1 L551.6,232.9 L553.4,231.6 L554.0,230.7 L554.7,231.1 L555.3,232.2 L555.9,232.6 L557.8,232.8 L558.4,233.3 L559.0,233.7 L559.6,233.7 L560.2,233.8 L562.1,233.9 L562.7,234.3 L563.3,235.1 L564.0,235.7 L564.6,236.0 L566.4,236.4 L567.1,236.8 L567.7,236.8 L568.3,237.5 L568.9,238.1 L570.8,238.6 L571.4,238.6 L572.0,238.9 L572.6,239.6 L573.2,240.4 L575.1,240.0 L575.7,240.5 L576.3,241.5 L577.0,241.9 L577.6,243.1 L579.4,243.5 L580.1,243.6 L580.7,244.9 L581.3,245.7 L581.9,246.4 L583.8,248.1 L584.4,249.9 L585.0,252.5 L585.6,254.0 L586.3,256.1 L588.1,258.2 L588.7,260.4 L589.4,262.3 L590.0,262.3 L590.6,261.3 L592.5,260.2 L593.1,258.9 L593.7,257.9 L594.3,256.4 L594.9,255.2 L596.8,254.6 L597.4,253.5 L598.0,252.5 L598.7,251.7 L599.3,250.3 L601.1,248.8 L601.7,247.9 L602.4,247.5 L603.0,246.9 L603.6,245.9 L605.5,245.3 L606.1,243.8 L606.7,242.9 L607.3,242.4 L607.9,242.9 L609.8,242.6 L610.4,241.7 L611.0,241.3 L611.7,240.6 L612.3,240.2 L614.1,239.3 L614.8,238.5 L615.4,237.8 L616.0,237.2 L616.6,236.3 L618.5,236.9 L619.1,236.9 L619.7,236.6 L620.3,236.4 L621.0,236.1 L622.8,236.0 L623.4,235.9 L624.1,235.5 L624.7,235.8 L625.3,235.5 L627.2,235.4 L627.8,232.8 L628.4,229.5 L629.0,228.3 L629.6,229.6 L631.5,231.2 L632.1,232.4 L632.7,233.6 L633.3,234.6 L634.0,235.3 L635.8,236.6 L636.4,238.9 L637.1,239.5 L637.7,241.2 L638.3,242.4 L640.2,242.9 L640.8,242.7 L641.4,242.6 L642.0,242.0 L642.6,241.7 L644.5,241.8 L645.1,240.9 L645.7,240.3 L646.4,240.2 L647.0,240.1 L648.8,240.6 L649.5,240.9 L650.1,240.6 L650.7,240.3 L651.3,240.5 L653.2,241.1 L653.8,241.2 L654.4,241.9 L655.0,242.7 L655.7,243.9 L657.5,244.6 L658.1,245.8 L658.8,246.4 L659.4,247.6 L660.0,249.0 L661.9,250.6 L662.5,251.3 L663.1,248.8 L663.7,244.2 L664.3,238.2 L666.2,230.4 L666.8,220.3 L667.4,207.7 L668.0,199.7 L668.7,194.0 L670.5,188.9 L671.1,183.9 L671.8,180.1 L672.4,175.8 L673.0,171.7 L674.9,166.7 L675.5,164.1 L676.1,164.6 L676.7,166.1 L677.3,167.4 L679.2,167.8 L679.8,172.8 L680.4,177.9 L681.1,182.7 L681.7,187.2 L683.5,192.8 L684.2,197.8 L684.8,202.1 L685.4,205.4 L686.0,208.2 L687.9,213.0 L688.5,218.3 L689.1,220.8 L689.7,220.9 L690.4,218.8 L692.2,215.3 L692.8,211.4 L693.5,206.7 L694.1,201.4 L694.7,196.0 L696.5,190.3 L697.2,185.5 L697.8,180.5 L698.4,176.5 L699.0,172.8 L700.9,170.0 L701.5,167.2 L702.1,165.1 L702.7,163.6 L703.4,162.4 L705.2,164.2 L705.8,166.9 L706.5,170.9 L707.1,177.1 L707.7,183.7 L709.6,191.3 L710.2,200.4 L710.8,211.5 L711.4,224.7 L712.0,226.4 L713.9,225.7 L714.5,224.3 L715.1,223.7 L715.8,225.0 L716.4,227.0 L718.2,230.7 L718.9,229.9 L719.5,224.0 L720.1,219.6 L720.7,217.2 L722.6,216.5 L723.2,217.1 L723.8,218.1 L724.4,218.5 L725.0,217.9 L726.9,219.0 L727.5,220.3 L728.1,220.8 L728.8,220.4 L729.4,219.7 L731.2,218.1 L731.9,215.7 L732.5,212.6 L733.1,209.0 L733.7,205.0 L735.6,200.3 L736.2,198.0 L736.8,197.5 L737.4,198.4 L738.1,200.3 L739.9,200.7 L740.5,202.3 L741.2,202.4 L741.8,202.6 L742.4,201.3 L744.3,199.8 L744.9,197.7 L745.5,193.2 L746.1,190.7 L746.7,189.0 L748.6,185.2 L749.2,182.4 L749.8,182.2 L750.5,181.1 L751.1,178.7 L752.9,178.0 L753.6,174.7 L754.2,170.5 L754.8,172.1 L755.4,172.6 L757.3,172.9 L757.9,172.9 L758.5,172.1 L759.1,171.0 L759.7,170.4 L761.6,169.1 L762.2,167.3 L762.8,165.5 L763.5,163.7 L764.1,168.8 L765.9,167.5 L766.6,166.4 L767.2,165.5 L767.8,165.2 L768.4,164.7 L770.3,165.1 L770.9,167.9 L771.5,176.9 L772.1,182.5 L772.8,185.1 L774.6,188.3 L775.2,189.5 L775.9,198.7 L776.5,205.7 L777.1,210.0 L779.0,218.6 L779.6,231.4 L780.2,246.7 L780.8,263.7 L781.4,283.6 L783.3,311.2 L783.9,336.8 L784.5,354.7 L785.2,365.9 L785.8,372.8 L787.6,374.9 L788.2,373.0 L788.9,368.3 L789.5,360.9 L790.1,349.4 L792.0,334.6 L792.6,334.7 L793.2,348.1 L793.8,355.7 L794.4,357.2 L796.3,364.4 L796.9,363.5 L797.5,357.1 L798.2,347.8 L798.8,337.2 L800.6,332.6 L801.3,335.1 L801.9,337.4 L802.5,339.3 L803.1,339.9 L805.0,342.0 L805.6,342.9 L806.2,343.6 L806.8,345.4 L807.5,347.9 L809.3,352.7 L809.9,357.2 L810.6,360.2 L811.2,363.5 L811.8,367.3 L813.7,372.2 L814.3,377.7 L814.9,382.8 L815.5,387.0 L816.1,391.7 L818.0,398.1 L818.6,405.6 L819.2,409.3 L819.8,410.6 L820.5,412.7 L822.3,414.9 L822.9,417.4 L823.6,420.7 L824.2,424.4 L824.8,426.0 L826.7,426.1 L827.3,428.9 L827.9,430.3 L828.5,431.9 L829.1,431.4 L831.0,423.8 L831.6,408.1 L832.2,392.9 L832.9,378.1 L833.5,369.7 L835.3,364.0 L836.0,360.4 L836.6,356.9 L837.2,354.0 L837.8,351.5 L839.7,348.6 L840.3,345.8 L840.9,343.0 L841.5,338.8 L842.2,333.9 L844.0,327.2 L844.6,322.0 L845.3,316.7 L845.9,312.1 L846.5,308.5 L848.4,307.5 L849.0,308.9 L849.6,311.4 L850.2,312.0 L850.8,310.5 L852.7,311.9 L853.3,318.2 L853.9,325.6 L854.5,332.5 L855.2,339.9 L857.0,348.1 L857.6,356.5 L858.3,365.5 L858.9,372.0 L859.5,376.7 L861.4,384.5 L862.0,391.9 L862.6,399.6 L863.2,404.2 L863.8,405.8 L865.7,409.1 L866.3,409.0 L866.9,405.9 L867.6,405.6 L868.2,410.2 L870.0,414.5 L870.7,419.9 L871.3,425.1 L871.9,430.2 L872.5,434.8 L874.4,437.2 L875.0,440.3 L875.6,444.3 L876.2,450.8 L876.9,458.6 L878.7,467.5 L879.3,478.5 L879.9,489.9 L880.6,501.3 L881.2,512.1 L883.0,530.9 L883.7,544.4 L884.3,553.5 L884.9,560.0 L885.5,561.8 L887.4,560.3 L888.0,561.7 L888.6,563.9 L889.2,568.6 L889.9,575.7 L891.7,585.1 L892.3,587.4 L893.0,586.0 L893.6,582.0 L894.2,575.7 L896.1,568.3 L896.7,556.1 L897.3,547.3 L897.9,545.0 L898.5,546.9 L900.4,551.5 L901.0,557.6 L901.6,557.5 L902.3,548.4 L902.9,539.8 L904.7,533.6 L905.4,528.4 L906.0,525.0 L906.6,523.7 L907.2,522.5 L909.1,522.9 L909.7,528.0 L910.3,520.7 L910.9,510.9 L911.5,499.2 L913.4,488.4 L914.0,477.6 L914.6,468.7 L915.3,461.0 L915.9,453.1 L917.7,446.4 L918.4,439.8 L919.0,433.0 L919.6,426.6 L920.2,421.2 L922.1,415.4 L922.7,409.5 L923.3,406.7 L923.9,407.0 L924.6,405.9 L926.4,404.3 L927.0,402.0 L927.7,401.7 L928.3,403.1 L928.9,403.6 L930.8,403.7 L931.4,407.5 L932.0,411.6 L932.6,416.1 L933.2,420.4 L935.1,426.0 L935.7,430.3 L936.3,433.9 L937.0,435.9 L937.6,436.8 L939.4,437.3 L940.1,436.8 L940.7,435.3 L941.3,432.6 L941.9,429.5 L943.8,425.4 L944.4,423.7 L945.0,423.5 L945.6,424.6 L946.2,425.3 L948.1,424.3 L948.7,423.3 L949.3,421.5 L950.0,421.9 L950.6,422.8 L952.4,427.3 L953.1,430.7 L953.7,428.1 L954.3,424.0 L954.9,420.1 L956.8,419.0 L957.4,420.8 L958.0,424.5 L958.6,426.3 L959.3,425.1 L961.1,423.0 L961.7,420.9 L962.4,421.4 L963.0,422.5 L963.6,422.3 L965.5,420.3 L966.1,421.6 L966.7,427.5 L967.3,436.4 L967.9,444.1 L969.8,450.2 L970.4,455.6 L971.0,461.4 L971.7,466.6 L972.3,468.0 L974.1,469.3 L974.7,469.2 L975.4,469.1 L976.0,467.9 L976.6,465.7 L978.5,463.2 L979.1,460.1 L979.7,455.6 L980.3,451.1 L980.9,442.4 L982.8,434.2 L983.4,426.7 L984.0,422.4 L984.7,418.7 L985.3,417.1 L987.1,417.5 L987.8,418.8 L988.4,421.3 L989.0,424.0 L989.6,423.6 L991.5,421.7 L992.1,419.3 L992.7,416.4 L993.3,416.3 L994.0,418.5 L995.8,423.0 L996.4,419.7 L997.1,414.0 L997.7,409.6 L998.3,406.8 L1000.2,405.3 L1000.8,403.9 L1001.4,402.9 L1002.0,402.4 L1002.6,401.2 L1004.5,400.3 L1005.1,398.3 L1005.7,397.7 L1006.3,396.4 L1007.0,396.1 L1008.8,394.6 L1009.4,391.9 L1010.1,391.1 L1010.7,391.6 L1011.3,392.8 L1013.2,395.0 L1013.8,397.1 L1014.4,398.3 L1015.0,399.7 L1015.6,399.8 L1017.5,398.8 L1018.1,398.4 L1018.7,398.9 L1019.4,398.1 L1020.0,395.4 L1021.8,391.7 L1022.5,387.3 L1023.1,383.0 L1023.7,379.6 L1024.3,377.9 L1026.2,377.2 L1026.8,375.1 L1027.4,374.9 L1028.0,375.6 L1028.7,377.5 L1030.5,375.7 L1031.1,371.6 L1031.8,365.5 L1032.4,352.5 L1033.0,341.7 L1034.8,332.4 L1035.5,326.0 L1036.1,321.3 L1036.7,319.4 L1037.3,318.3 L1039.2,317.8 L1039.8,312.5 L1040.4,303.6 L1041.0,297.7 L1041.7,293.7 L1043.5,288.9 L1044.1,285.1 L1044.8,282.1 L1045.4,279.1 L1046.0,280.9 L1047.9,284.7 L1048.5,289.7 L1049.1,295.2 L1049.7,300.4 L1050.3,303.9 L1052.2,306.3 L1052.8,308.1 L1053.4,308.5 L1054.1,309.9 L1054.7,310.5 L1056.5,310.1 L1057.2,308.1 L1057.8,306.7 L1058.4,304.7 L1059.0,301.4 L1060.9,297.4 L1061.5,293.3 L1062.1,288.8 L1062.7,287.6 L1063.4,289.1 L1065.2,292.7 L1065.8,295.3 L1066.4,297.5 L1067.1,298.8 L1067.7,298.7 L1069.5,297.3 L1070.2,297.4 L1070.8,298.0 L1071.4,299.2 L1072.0,300.1 L1073.9,301.7 L1074.5,302.8 L1075.1,305.3 L1075.7,307.5 L1076.4,309.6 L1078.2,309.5 L1078.8,309.4 L1079.5,308.3 L1080.1,307.2 L1080.7,305.0 L1082.6,303.5 L1083.2,301.1 L1083.8,298.6 L1084.4,294.4 L1085.0,285.0 L1086.9,271.7 L1087.5,261.3 L1088.1,252.2 L1088.8,244.9 L1089.4,237.9 L1091.2,232.5 L1091.9,220.8 L1092.5,203.5 L1093.1,188.8 L1093.7,177.0 L1095.6,166.7 L1096.2,157.7 L1096.8,150.2 L1097.4,145.0 L1098.0,143.0 L1099.9,141.0 L1100.5,141.0 L1101.1,143.5 L1101.8,148.1 L1102.4,153.5 L1104.2,163.4 L1104.9,176.1 L1105.5,181.0 L1106.1,183.9 L1106.7,184.6 L1108.6,179.4 L1109.2,167.3 L1109.8,154.5 L1110.4,140.8 L1111.1,135.2 L1112.9,132.9 L1113.5,129.5 L1114.2,124.2 L1114.8,123.3 L1115.4,125.7 L1117.3,133.6 L1117.9,147.9 L1118.5,160.9 L1119.1,173.4 L1119.7,176.8 L1121.6,191.5 L1122.2,207.5 L1122.8,224.3 L1123.5,236.3 L1124.1,245.1 L1125.9,245.5 L1126.6,242.6 L1127.2,237.0 L1127.8,231.4 L1128.4,225.8 L1130.3,222.0 L1130.9,218.9 L1131.5,215.0 L1132.1,212.7 L1132.7,209.6 L1134.6,207.0 L1135.2,204.1 L1135.8,200.6 L1136.5,197.2 L1137.1,194.2 L1138.9,190.9 L1139.6,186.0 L1140.2,181.5 L1140.8,178.2 L1141.4,177.7 L1143.3,177.8 L1143.9,178.6 L1144.5,179.3 L1145.1,180.2 L1145.8,180.2 L1147.6,179.7 L1148.2,180.7 L1148.9,182.1 L1149.5,183.8 L1150.1,186.1 L1152.0,189.5 L1152.6,191.8 L1153.2,194.3 L1153.8,197.6 L1154.4,200.1 L1156.3,203.6 L1156.9,209.0 L1157.5,216.1 L1158.2,224.1 L1158.8,230.5 L1160.6,236.2 L1161.2,243.1 L1161.9,250.4 L1162.5,252.9 L1163.1,250.7 L1165.0,246.6 L1165.6,241.4 L1166.2,235.7 L1166.8,229.9 L1167.4,224.1 L1169.3,222.6 L1169.9,223.1 L1170.5,224.6 L1171.2,225.5 L1171.8,227.0 L1173.6,229.7 L1174.3,234.2 L1174.9,238.8 L1175.5,239.0 L1176.1,237.1 L1178.0,234.3 L1178.6,230.2 L1179.2,216.1 L1179.8,206.4 L1180.5,200.4 L1182.3,194.2 L1182.9,178.4 L1183.6,167.8 L1184.2,160.3 L1184.8,150.4 L1186.7,137.8 L1187.3,126.7 L1187.9,116.7 L1188.5,110.5 L1189.1,107.6 L1191.0,111.4 L1191.6,110.3 L1192.2,109.2 L1192.8,108.4 L1193.5,107.2 L1195.3,107.8 L1195.9,110.7 L1196.6,115.1 L1197.2,119.7 L1197.8,124.9 L1199.7,130.0 L1200.3,134.9 L1200.9,139.7 L1201.5,144.1 L1202.1,143.9 L1204.0,142.2 L1204.6,140.5 L1205.2,145.2 L1205.9,164.5 L1206.5,175.1 L1208.3,185.3 L1209.0,195.0 L1209.6,204.8 L1210.2,214.1 L1210.8,216.5 L1212.7,218.0 L1213.3,218.7 L1213.9,232.2 L1214.5,256.1 L1215.2,267.4 L1217.0,274.0 L1217.6,277.3 L1218.3,276.5 L1218.9,272.6 L1219.5,266.1 L1221.3,252.8 L1222.0,239.8 L1222.6,227.5 L1223.2,219.5 L1223.8,214.6 L1225.7,215.3 L1226.3,217.0 L1226.9,220.8 L1227.5,225.8 L1228.2,232.0 L1230.0,237.7 L1230.6,241.3 L1231.3,244.6 L1231.9,248.2 L1232.5,250.9 L1234.4,252.2 L1235.0,251.0 L1235.6,249.5 L1236.2,247.8 L1236.8,246.8 L1238.7,246.8 L1239.3,247.5 L1239.9,249.8 L1240.6,252.4 L1241.2,261.3 L1243.0,268.6 L1243.7,274.4 L1244.3,280.0 L1244.9,283.5 L1245.5,285.2 L1247.4,284.8 L1248.0,284.1 L1248.6,291.2 L1249.2,296.6 L1249.9,303.0 L1251.7,314.1 L1252.3,328.9 L1252.9,343.3 L1253.6,357.7 L1254.2,365.4 L1256.0,368.8 L1256.7,361.3 L1257.3,353.3 L1257.9,344.3 L1258.5,336.8 L1260.4,331.9 L1261.0,328.5 L1261.6,327.9 L1262.2,327.0 L1262.9,325.9 L1264.7,329.9 L1265.3,335.5 L1266.0,343.5 L1266.6,352.6 L1267.2,362.9 L1269.1,377.1 L1269.7,381.7 L1270.3,379.4 L1270.9,371.1 L1271.5,359.5 L1273.4,349.5 L1274.0,339.2 L1274.6,329.8 L1275.3,325.2 L1275.9,322.3 L1277.7,322.2 L1278.4,325.0 L1279.0,326.8 L1279.6,327.8 L1280.2,327.9 L1282.1,328.1 L1282.7,326.7 L1283.3,325.1 L1283.9,323.3 L1284.5,320.7 L1286.4,316.6 L1287.0,312.9 L1287.6,309.7 L1288.3,306.1 L1288.9,304.4 L1290.7,303.5 L1291.4,301.8 L1292.0,300.3 L1292.6,299.2 L1293.2,298.7 L1295.1,297.1 L1295.7,295.1 L1296.3,293.1 L1296.9,292.3 L1297.6,291.7 L1299.4,292.4 L1300.0,293.1 L1300.7,294.4 L1301.3,295.3 L1301.9,298.5 L1303.8,304.7 L1304.4,308.0 L1305.0,309.2 L1305.6,309.2 L1306.2,308.5 L1308.1,307.5 L1308.7,305.1 L1309.3,302.5 L1310.0,300.9 L1310.6,301.2 L1312.4,299.0 L1313.0,293.1 L1313.7,284.6 L1314.3,275.4 L1314.9,264.8 L1316.8,255.4 L1317.4,247.2 L1318.0,241.8 L1318.6,238.7 L1319.2,236.6 L1321.1,231.7 L1321.7,226.3 L1322.3,221.5 L1323.0,216.1 L1323.6,216.6 L1325.4,223.4 L1326.1,235.1 L1326.7,241.4 L1327.3,244.4 L1327.9,248.5 L1329.8,247.6 L1330.4,241.3 L1331.0,238.7 L1331.6,238.2 L1332.3,236.6 L1334.1,242.7 L1334.7,250.1 L1335.4,258.3 L1336.0,267.7 L1336.6,277.0 L1338.5,288.0 L1339.1,296.2 L1339.7,301.5 L1340.3,305.3 L1340.9,314.4 L1342.8,323.7 L1343.4,334.2 L1344.0,338.9 L1344.6,340.5 L1345.3,337.7 L1347.1,331.5 L1347.7,324.7 L1348.4,317.3 L1349.0,310.5 L1349.6,305.1 L1351.5,301.2 L1352.1,299.8 L1352.7,297.7 L1353.3,295.5 L1353.9,290.5 L1355.8,282.6 L1356.4,274.2 L1357.0,266.3 L1357.7,259.6 L1358.3,254.3 L1360.1,252.0 L1360.8,251.8 L1361.4,251.0 L1362.0,250.1 L1362.6,248.7 L1364.5,250.5 L1365.1,251.1 L1365.7,252.1 L1366.3,253.9 L1367.0,255.7 L1368.8,255.1 L1369.4,255.8 L1370.1,257.6 L1370.7,259.4 L1371.3,261.2 L1373.2,263.1 L1373.8,265.2 L1374.4,267.2 L1375.0,269.2 L1375.6,270.9 L1377.5,272.9 L1378.1,275.2 L1378.7,277.6 L1379.3,279.3 L1380.0,282.0 L1381.8,290.2 L1382.4,297.7 L1383.1,304.5 L1383.7,312.7 L1384.3,322.2 L1386.2,329.2 L1386.8,335.4 L1387.4,340.8 L1388.0,346.3 L1388.6,350.6 L1390.5,349.6 L1391.1,350.9 L1391.7,349.3 L1392.4,344.6 L1393.0,338.1 L1394.8,331.8 L1395.5,326.3 L1396.1,321.7 L1396.7,318.5 L1397.3,314.9 L1399.2,313.3 L1399.8,313.1 L1400.4,313.2 L1401.0,315.7 L1401.7,320.8 L1403.5,326.7 L1404.1,333.1 L1404.8,338.3 L1405.4,342.1 L1406.0,345.5 L1407.8,350.9 L1408.5,351.9 L1409.1,352.4 L1409.7,352.7 L1410.3,352.5 L1412.2,350.3 L1412.8,347.2 L1413.4,342.9 L1414.0,341.7 L1414.7,341.1 L1416.5,338.2 L1417.1,333.5 L1417.8,329.8 L1418.4,326.7 L1419.0,324.2 L1420.9,323.1 L1421.5,322.1 L1422.1,321.7 L1422.7,321.1 L1423.3,320.2 L1425.2,319.9 L1425.8,320.0 L1426.4,319.1 L1427.1,318.6 L1427.7,317.8 L1429.5,317.6 L1430.2,317.4 L1430.8,316.6 L1431.4,315.5 L1432.0,314.2 L1433.9,313.4 L1434.5,310.7 L1435.1,309.4 L1435.7,307.9 L1436.4,303.4 L1438.2,299.0 L1438.8,294.4 L1439.4,290.7 L1440.1,287.0 L1440.7,283.9 L1442.5,281.3 L1443.2,279.8 L1443.8,280.0 L1444.4,280.2 L1445.0,280.5 L1446.9,280.5 L1447.5,281.4 L1448.1,283.6 L1448.7,286.4 L1449.4,289.2 L1451.2,290.8 L1451.8,292.5 L1452.5,293.9 L1453.1,295.8 L1453.7,297.9 L1455.6,299.2 L1456.2,301.2 L1456.8,302.6 L1457.4,303.1 L1458.0,304.9 L1459.9,306.0 L1460.5,307.6 L1461.1,309.3 L1461.8,311.8 L1462.4,311.8 L1464.2,312.3 L1464.9,313.4 L1465.5,314.4 L1466.1,315.1 L1466.7,315.9 L1468.6,318.8 L1469.2,317.6 L1469.8,314.7 L1470.4,310.4 L1471.0,311.8 L1472.9,317.9 L1473.5,323.5 L1474.1,328.5 L1474.8,331.2 L1475.4,332.9 L1477.2,333.5 L1477.9,332.3 L1478.5,331.0 L1479.1,329.5 L1479.7,326.7 L1481.6,325.1 L1482.2,324.9 L1482.8,323.9 L1483.4,322.4 L1484.1,319.5 L1485.9,312.5 L1486.5,299.7 L1487.2,286.8 L1487.8,272.8 L1488.4,261.0 L1490.3,251.5 L1490.9,243.0 L1491.5,237.7 L1492.1,235.4 L1492.7,234.9 L1494.6,234.0 L1495.2,234.7 L1495.8,236.2 L1496.5,238.3 L1497.1,239.9 L1498.9,242.4 L1499.5,249.4 L1500.2,259.6 L1500.8,265.3 L1501.4,267.0 L1503.3,270.4 L1503.9,272.2 L1504.5,273.7 L1505.1,274.6 L1505.7,274.3 L1507.6,274.1 L1508.2,273.1 L1508.8,271.4 L1509.5,269.6 L1510.1,267.2 L1511.9,264.5 L1512.6,256.2 L1513.2,252.3 L1513.8,250.9 L1514.4,249.7 L1516.3,248.8 L1516.9,249.5 L1517.5,250.7 L1518.1,253.4 L1518.8,257.3 L1520.6,256.8 L1521.2,254.8 L1521.9,252.8 L1522.5,247.9 L1523.1,241.3 L1525.0,232.6 L1525.6,225.6 L1526.2,218.9 L1526.8,213.0 L1527.4,207.8 L1529.3,204.1 L1529.9,205.2 L1530.5,210.4 L1531.1,214.9 L1531.8,213.6 L1533.6,209.7 L1534.2,205.2 L1534.9,199.6 L1535.5,190.5 L1536.1,177.0 L1538.0,167.1 L1538.6,161.7 L1539.2,157.7 L1539.8,156.3 L1540.4,154.6 L1542.3,152.7 L1542.9,152.0 L1543.5,153.5 L1544.2,161.3 L1544.8,172.2 L1546.6,182.6 L1547.3,192.1 L1547.9,207.2 L1548.5,225.9 L1549.1,235.7 L1551.0,240.3 L1551.6,239.8 L1552.2,233.0 L1552.8,225.9 L1553.5,220.1 L1555.3,216.1 L1555.9,210.2 L1556.6,203.7 L1557.2,194.1 L1557.8,189.6 L1559.7,189.3 L1560.3,190.6 L1560.9,193.1 L1561.5,197.6" fill="none" stroke="#3498db" stroke-opacity="0.7" stroke-width="2.9" stroke-linejoin="round"/>
<path d="M151.3,424.6 L151.9,425.2 L152.5,426.1 L154.4,428.5 L155.0,430.6 L155.6,432.6 L156.3,434.5 L156.9,437.3 L158.7,442.1 L159.4,444.8 L160.0,447.5 L160.6,450.3 L161.2,452.3 L163.1,454.0 L163.7,456.2 L164.3,458.2 L164.9,459.9 L165.6,461.6 L167.4,463.6 L168.0,465.8 L168.6,467.2 L169.3,468.0 L169.9,468.1 L171.7,467.5 L172.4,468.1 L173.0,468.7 L173.6,469.4 L174.2,470.0 L176.1,470.2 L176.7,470.7 L177.3,471.6 L177.9,473.0 L178.6,474.5 L180.4,476.3 L181.0,478.9 L181.7,481.3 L182.3,484.0 L182.9,487.3 L184.8,491.2 L185.4,495.8 L186.0,500.2 L186.6,505.0 L187.2,509.7 L189.1,514.1 L189.7,517.6 L190.3,520.5 L191.0,519.3 L191.6,519.1 L193.4,518.8 L194.1,518.7 L194.7,518.7 L195.3,521.9 L195.9,527.6 L197.8,533.0 L198.4,539.5 L199.0,548.3 L199.6,557.6 L200.2,567.3 L202.1,578.6 L202.7,590.6 L203.3,599.4 L204.0,607.1 L204.6,610.8 L206.4,609.5 L207.1,608.1 L207.7,607.7 L208.3,607.3 L208.9,607.1 L210.8,606.3 L211.4,606.2 L212.0,605.9 L212.6,606.0 L213.3,606.0 L215.1,606.4 L215.7,607.1 L216.4,607.6 L217.0,607.8 L217.6,607.7 L219.5,607.5 L220.1,609.2 L220.7,611.7 L221.3,615.2 L221.9,618.3 L223.8,618.6 L224.4,619.2 L225.0,620.1 L225.7,621.1 L226.3,622.6 L228.1,624.5 L228.8,626.3 L229.4,628.3 L230.0,630.3 L230.6,632.5 L232.5,633.8 L233.1,636.6 L233.7,640.0 L234.3,643.9 L234.9,646.5 L236.8,648.1 L237.4,648.6 L238.0,647.7 L238.7,644.0 L239.3,638.6 L241.1,632.8 L241.8,626.6 L242.4,620.7 L243.0,615.2 L243.6,610.2 L245.5,606.0 L246.1,602.1 L246.7,598.7 L247.3,595.8 L248.0,593.5 L249.8,591.2 L250.4,588.5 L251.1,586.6 L251.7,585.2 L252.3,584.9 L254.2,585.5 L254.8,586.7 L255.4,587.2 L256.0,587.7 L256.6,588.0 L258.5,588.8 L259.1,589.7 L259.7,590.8 L260.3,591.2 L261.0,591.0 L262.8,591.3 L263.4,591.9 L264.1,592.9 L264.7,594.2 L265.3,595.6 L267.2,597.8 L267.8,600.5 L268.4,603.4 L269.0,605.5 L269.6,606.9 L271.5,608.1 L272.1,609.9 L272.7,611.5 L273.4,613.0 L274.0,614.1 L275.8,614.7 L276.5,615.0 L277.1,615.7 L277.7,616.5 L278.3,617.4 L280.2,618.7 L280.8,619.8 L281.4,620.6 L282.0,621.5 L282.7,622.3 L284.5,623.0 L285.1,623.6 L285.8,624.3 L286.4,624.9 L287.0,625.6 L288.9,626.2 L289.5,626.8 L290.1,627.2 L290.7,627.6 L291.3,627.9 L293.2,628.0 L293.8,628.3 L294.4,628.2 L295.0,627.8 L295.7,627.7 L297.5,627.2 L298.1,626.7 L298.8,626.2 L299.4,625.3 L300.0,624.4 L301.9,623.4 L302.5,622.3 L303.1,621.1 L303.7,619.9 L304.3,618.9 L306.2,616.8 L306.8,614.8 L307.4,612.8 L308.1,610.5 L308.7,608.1 L310.5,605.7 L311.2,603.4 L311.8,601.5 L312.4,599.8 L313.0,598.5 L314.9,597.6 L315.5,596.9 L316.1,596.1 L316.7,595.2 L317.4,594.1 L319.2,591.9 L319.8,588.5 L320.5,585.5 L321.1,582.9 L321.7,580.8 L323.5,578.9 L324.2,577.2 L324.8,575.6 L325.4,574.1 L326.0,572.6 L327.9,571.5 L328.5,570.6 L329.1,569.6 L329.7,568.4 L330.4,566.8 L332.2,564.0 L332.8,560.1 L333.5,555.1 L334.1,550.7 L334.7,546.2 L336.6,541.9 L337.2,538.7 L337.8,535.9 L338.4,533.4 L339.0,530.4 L340.9,527.3 L341.5,524.3 L342.1,521.3 L342.8,518.5 L343.4,515.7 L345.2,513.3 L345.9,510.9 L346.5,509.1 L347.1,507.5 L347.7,506.0 L349.6,504.6 L350.2,503.1 L350.8,501.8 L351.4,500.5 L352.1,498.2 L353.9,495.2 L354.5,492.2 L355.1,489.1 L355.8,485.9 L356.4,482.5 L358.2,479.2 L358.9,476.2 L359.5,473.8 L360.1,472.1 L360.7,470.6 L362.6,469.6 L363.2,469.0 L363.8,468.9 L364.4,468.9 L365.1,470.2 L366.9,471.9 L367.5,473.7 L368.2,475.2 L368.8,476.1 L369.4,476.6 L371.3,477.1 L371.9,477.6 L372.5,478.1 L373.1,478.5 L373.7,478.9 L375.6,479.2 L376.2,479.7 L376.8,480.3 L377.5,481.0 L378.1,481.6 L379.9,482.5 L380.6,482.8 L381.2,482.2 L381.8,482.1 L382.4,482.6 L384.3,483.6 L384.9,484.6 L385.5,485.9 L386.1,487.3 L386.7,489.0 L388.6,490.7 L389.2,493.0 L389.8,494.2 L390.5,495.2 L391.1,495.8 L392.9,496.5 L393.6,497.1 L394.2,497.7 L394.8,498.4 L395.4,499.0 L397.3,499.3 L397.9,499.7 L398.5,500.2 L399.1,500.3 L399.8,500.4 L401.6,500.5 L402.2,500.6 L402.9,500.7 L403.5,500.4 L404.1,500.1 L406.0,499.7 L406.6,499.3 L407.2,498.7 L407.8,498.4 L408.4,497.9 L410.3,496.8 L410.9,495.6 L411.5,494.0 L412.2,492.2 L412.8,490.4 L414.6,488.4 L415.2,486.6 L415.9,485.1 L416.5,483.4 L417.1,481.6 L419.0,479.8 L419.6,478.1 L420.2,476.4 L420.8,474.8 L421.4,473.2 L423.3,470.9 L423.9,468.7 L424.5,466.3 L425.2,464.2 L425.8,462.0 L427.6,459.6 L428.3,456.6 L428.9,453.4 L429.5,448.7 L430.1,444.2 L432.0,439.8 L432.6,435.6 L433.2,431.7 L433.8,428.4 L434.5,426.1 L436.3,424.2 L436.9,422.7 L437.6,421.1 L438.2,419.1 L438.8,417.1 L440.7,414.9 L441.3,411.9 L441.9,408.8 L442.5,406.0 L443.1,403.3 L445.0,400.8 L445.6,397.0 L446.2,392.7 L446.8,387.9 L447.5,382.7 L449.3,376.5 L449.9,370.3 L450.6,363.7 L451.2,357.3 L451.8,350.4 L453.7,343.6 L454.3,337.5 L454.9,332.2 L455.5,327.1 L456.1,322.1 L458.0,317.3 L458.6,312.6 L459.2,308.2 L459.9,303.8 L460.5,299.8 L462.3,295.8 L463.0,292.1 L463.6,288.7 L464.2,285.6 L464.8,282.5 L466.7,279.2 L467.3,275.7 L467.9,272.0 L468.5,268.1 L469.2,264.0 L471.0,258.5 L471.6,252.5 L472.3,246.2 L472.9,239.5 L473.5,233.8 L475.4,228.7 L476.0,224.9 L476.6,221.6 L477.2,219.0 L477.8,218.1 L479.7,219.5 L480.3,220.2 L480.9,220.6 L481.5,220.9 L482.2,221.3 L484.0,222.1 L484.6,223.1 L485.3,224.3 L485.9,225.7 L486.5,227.6 L488.4,229.6 L489.0,231.7 L489.6,234.1 L490.2,236.5 L490.8,239.0 L492.7,241.9 L493.3,245.0 L493.9,248.5 L494.6,252.2 L495.2,255.1 L497.0,257.5 L497.7,259.2 L498.3,260.5 L498.9,262.2 L499.5,264.1 L501.4,264.8 L502.0,265.8 L502.6,267.0 L503.2,268.3 L503.9,270.4 L505.7,272.4 L506.3,274.0 L507.0,275.2 L507.6,276.0 L508.2,276.5 L510.0,276.9 L510.7,276.9 L511.3,276.8 L511.9,276.5 L512.5,276.0 L514.4,274.8 L515.0,273.0 L515.6,271.4 L516.2,269.8 L516.9,268.3 L518.7,267.2 L519.3,266.4 L520.0,266.0 L520.6,266.2 L521.2,266.2 L523.1,266.0 L523.7,265.5 L524.3,265.0 L524.9,264.6 L525.5,264.2 L527.4,263.6 L528.0,262.9 L528.6,262.0 L529.3,260.9 L529.9,259.9 L531.7,258.3 L532.4,257.0 L533.0,255.9 L533.6,254.8 L534.2,253.8 L536.1,252.7 L536.7,251.6 L537.3,250.8 L537.9,250.1 L538.5,249.5 L540.4,248.8 L541.0,248.4 L541.6,247.9 L542.3,247.4 L542.9,246.9 L544.7,246.1 L545.4,245.0 L546.0,243.6 L546.6,242.1 L547.2,240.4 L549.1,239.7 L549.7,239.8 L550.3,239.7 L550.9,239.6 L551.6,239.2 L553.4,238.5 L554.0,237.9 L554.7,237.5 L555.3,237.4 L555.9,237.3 L557.8,237.0 L558.4,236.9 L559.0,236.8 L559.6,236.6 L560.2,236.5 L562.1,236.3 L562.7,236.3 L563.3,236.4 L564.0,236.5 L564.6,236.5 L566.4,236.6 L567.1,236.7 L567.7,236.7 L568.3,236.9 L568.9,237.1 L570.8,237.3 L571.4,237.4 L572.0,237.5 L572.6,237.8 L573.2,238.1 L575.1,238.1 L575.7,238.4 L576.3,238.8 L577.0,239.0 L577.6,239.5 L579.4,239.8 L580.1,240.1 L580.7,240.6 L581.3,241.1 L581.9,241.5 L583.8,242.3 L584.4,243.1 L585.0,244.2 L585.6,245.1 L586.3,246.2 L588.1,247.3 L588.7,248.5 L589.4,249.7 L590.0,250.5 L590.6,250.9 L592.5,251.2 L593.1,251.4 L593.7,251.6 L594.3,251.6 L594.9,251.5 L596.8,251.6 L597.4,251.5 L598.0,251.3 L598.7,251.2 L599.3,250.8 L601.1,250.4 L601.7,250.1 L602.4,249.8 L603.0,249.5 L603.6,249.1 L605.5,248.8 L606.1,248.2 L606.7,247.7 L607.3,247.2 L607.9,247.1 L609.8,246.8 L610.4,246.3 L611.0,245.9 L611.7,245.5 L612.3,245.1 L614.1,244.5 L614.8,244.0 L615.4,243.5 L616.0,243.0 L616.6,242.4 L618.5,242.2 L619.1,241.9 L619.7,241.5 L620.3,241.2 L621.0,240.8 L622.8,240.5 L623.4,240.2 L624.1,239.9 L624.7,239.7 L625.3,239.4 L627.2,239.1 L627.8,238.2 L628.4,237.0 L629.0,236.3 L629.6,236.1 L631.5,236.2 L632.1,236.2 L632.7,236.3 L633.3,236.4 L634.0,236.5 L635.8,236.8 L636.4,237.4 L637.1,237.6 L637.7,238.2 L638.3,238.7 L640.2,239.0 L640.8,239.2 L641.4,239.4 L642.0,239.4 L642.6,239.5 L644.5,239.6 L645.1,239.5 L645.7,239.5 L646.4,239.5 L647.0,239.5 L648.8,239.7 L649.5,239.8 L650.1,239.8 L650.7,239.7 L651.3,239.8 L653.2,240.0 L653.8,240.1 L654.4,240.4 L655.0,240.7 L655.7,241.1 L657.5,241.5 L658.1,242.0 L658.8,242.3 L659.4,242.9 L660.0,243.6 L661.9,244.3 L662.5,244.9 L663.1,244.6 L663.7,243.6 L664.3,242.0 L666.2,239.8 L666.8,236.5 L667.4,232.3 L668.0,228.7 L668.7,225.5 L670.5,222.3 L671.1,219.0 L671.8,215.9 L672.4,212.7 L673.0,209.4 L674.9,205.9 L675.5,202.9 L676.1,200.7 L676.7,199.0 L677.3,197.4 L679.2,195.8 L679.8,195.4 L680.4,195.5 L681.1,195.7 L681.7,196.1 L683.5,197.1 L684.2,198.1 L684.8,199.3 L685.4,200.3 L686.0,201.3 L687.9,203.0 L688.5,205.0 L689.1,206.4 L689.7,207.3 L690.4,207.6 L692.2,207.3 L692.8,206.7 L693.5,205.8 L694.1,204.4 L694.7,202.8 L696.5,200.9 L697.2,199.0 L697.8,196.9 L698.4,194.9 L699.0,192.8 L700.9,190.9 L701.5,188.9 L702.1,187.1 L702.7,185.4 L703.4,183.8 L705.2,183.0 L705.8,182.6 L706.5,182.8 L707.1,183.7 L707.7,185.1 L709.6,187.0 L710.2,189.7 L710.8,193.2 L711.4,197.8 L712.0,199.8 L713.9,201.2 L714.5,202.3 L715.1,203.4 L715.8,204.9 L716.4,206.7 L718.2,208.8 L718.9,209.9 L719.5,209.5 L720.1,209.2 L720.7,209.2 L722.6,209.5 L723.2,210.1 L723.8,210.7 L724.4,211.3 L725.0,211.5 L726.9,212.2 L727.5,212.9 L728.1,213.5 L728.8,213.8 L729.4,214.0 L731.2,213.9 L731.9,213.6 L732.5,212.9 L733.1,211.9 L733.7,210.7 L735.6,209.1 L736.2,208.0 L736.8,207.2 L737.4,206.9 L738.1,206.9 L739.9,206.6 L740.5,206.7 L741.2,206.5 L741.8,206.3 L742.4,205.7 L744.3,205.1 L744.9,204.2 L745.5,202.6 L746.1,201.4 L746.7,200.3 L748.6,198.7 L749.2,197.1 L749.8,196.2 L750.5,195.1 L751.1,193.6 L752.9,192.6 L753.6,190.9 L754.2,188.8 L754.8,188.1 L755.4,187.3 L757.3,186.5 L757.9,185.7 L758.5,184.8 L759.1,183.7 L759.7,182.8 L761.6,181.7 L762.2,180.5 L762.8,179.3 L763.5,178.0 L764.1,178.5 L765.9,177.6 L766.6,176.7 L767.2,175.8 L767.8,175.2 L768.4,174.4 L770.3,174.0 L770.9,174.2 L771.5,176.2 L772.1,177.7 L772.8,178.7 L774.6,179.9 L775.2,180.7 L775.9,183.7 L776.5,186.4 L777.1,188.7 L779.0,192.2 L779.6,197.2 L780.2,203.2 L780.8,210.3 L781.4,218.7 L783.3,229.8 L783.9,241.4 L784.5,251.7 L785.2,260.7 L785.8,268.8 L787.6,275.4 L788.2,280.8 L788.9,285.0 L789.5,287.9 L790.1,289.2 L792.0,288.8 L792.6,291.5 L793.2,297.6 L793.8,302.6 L794.4,306.1 L796.3,311.0 L796.9,313.9 L797.5,315.1 L798.2,315.1 L798.8,314.3 L800.6,314.4 L801.3,316.1 L801.9,317.8 L802.5,319.5 L803.1,320.8 L805.0,322.5 L805.6,323.9 L806.2,325.2 L806.8,326.7 L807.5,328.5 L809.3,330.9 L809.9,333.4 L810.6,335.6 L811.2,337.9 L811.8,340.4 L813.7,343.3 L814.3,346.4 L814.9,349.6 L815.5,352.7 L816.1,356.0 L818.0,359.8 L818.6,364.0 L819.2,367.4 L819.8,370.2 L820.5,373.2 L822.3,376.1 L822.9,379.0 L823.6,382.2 L824.2,385.4 L824.8,388.1 L826.7,390.4 L827.3,393.2 L827.9,395.7 L828.5,398.1 L829.1,400.0 L831.0,399.8 L831.6,397.1 L832.2,393.7 L832.9,389.8 L833.5,386.8 L835.3,384.3 L836.0,382.2 L836.6,380.0 L837.2,377.8 L837.8,375.8 L839.7,373.6 L840.3,371.4 L840.9,369.1 L841.5,366.5 L842.2,363.5 L844.0,360.0 L844.6,356.7 L845.3,353.3 L845.9,349.9 L846.5,346.7 L848.4,344.2 L849.0,342.4 L849.6,341.1 L850.2,339.5 L850.8,337.5 L852.7,336.3 L853.3,336.5 L853.9,337.4 L854.5,338.5 L855.2,340.1 L857.0,342.3 L857.6,344.9 L858.3,347.9 L858.9,350.7 L859.5,353.2 L861.4,356.6 L862.0,360.2 L862.6,364.1 L863.2,367.4 L863.8,370.0 L865.7,373.0 L866.3,375.1 L866.9,376.3 L867.6,377.9 L868.2,380.8 L870.0,383.6 L870.7,386.9 L871.3,390.2 L871.9,393.6 L872.5,397.0 L874.4,399.8 L875.0,402.9 L875.6,406.1 L876.2,410.1 L876.9,414.5 L878.7,419.5 L879.3,425.2 L879.9,431.4 L880.6,437.9 L881.2,444.4 L883.0,453.4 L883.7,461.5 L884.3,468.8 L884.9,475.5 L885.5,480.9 L887.4,485.3 L888.0,490.1 L888.6,494.9 L889.2,500.2 L889.9,506.1 L891.7,512.7 L892.3,517.6 L893.0,521.3 L893.6,524.0 L894.2,525.8 L896.1,526.8 L896.7,526.0 L897.3,525.4 L897.9,526.1 L898.5,527.7 L900.4,530.1 L901.0,532.9 L901.6,534.4 L902.3,533.3 L902.9,531.9 L904.7,530.8 L905.4,529.5 L906.0,528.6 L906.6,528.0 L907.2,527.5 L909.1,527.3 L909.7,528.4 L910.3,526.4 L910.9,523.5 L911.5,519.6 L913.4,515.6 L914.0,511.1 L914.6,506.8 L915.3,502.5 L915.9,498.0 L917.7,493.5 L918.4,489.0 L919.0,484.3 L919.6,479.6 L920.2,475.1 L922.1,470.4 L922.7,465.6 L923.3,461.5 L923.9,458.4 L924.6,455.1 L926.4,451.8 L927.0,448.3 L927.7,445.6 L928.3,443.3 L928.9,441.1 L930.8,438.9 L931.4,437.9 L932.0,437.2 L932.6,436.9 L933.2,436.8 L935.1,437.3 L935.7,437.8 L936.3,438.3 L937.0,438.5 L937.6,438.6 L939.4,438.7 L940.1,438.4 L940.7,437.9 L941.3,437.1 L941.9,436.0 L943.8,434.5 L944.4,433.5 L945.0,432.9 L945.6,432.6 L946.2,432.4 L948.1,431.7 L948.7,431.0 L949.3,430.1 L950.0,429.6 L950.6,429.4 L952.4,430.2 L953.1,431.0 L953.7,430.3 L954.3,429.1 L954.9,427.7 L956.8,427.0 L957.4,427.0 L958.0,427.6 L958.6,427.9 L959.3,427.5 L961.1,426.8 L961.7,426.0 L962.4,425.8 L963.0,425.9 L963.6,425.6 L965.5,424.9 L966.1,425.0 L966.7,426.3 L967.3,428.8 L967.9,431.2 L969.8,433.6 L970.4,436.0 L971.0,438.7 L971.7,441.4 L972.3,443.3 L974.1,445.1 L974.7,446.5 L975.4,447.8 L976.0,448.7 L976.6,449.3 L978.5,449.6 L979.1,449.6 L979.7,449.0 L980.3,448.2 L980.9,446.0 L982.8,443.7 L983.4,441.1 L984.0,439.1 L984.7,437.2 L985.3,435.7 L987.1,434.7 L987.8,434.0 L988.4,433.8 L989.0,433.8 L989.6,433.1 L991.5,432.0 L992.1,430.8 L992.7,429.3 L993.3,428.6 L994.0,428.4 L995.8,429.0 L996.4,427.8 L997.1,425.8 L997.7,424.0 L998.3,422.4 L1000.2,421.0 L1000.8,419.7 L1001.4,418.6 L1002.0,417.5 L1002.6,416.3 L1004.5,415.2 L1005.1,413.8 L1005.7,412.7 L1006.3,411.5 L1007.0,410.5 L1008.8,409.3 L1009.4,407.7 L1010.1,406.5 L1010.7,405.8 L1011.3,405.2 L1013.2,405.1 L1013.8,405.1 L1014.4,404.9 L1015.0,404.9 L1015.6,404.6 L1017.5,404.1 L1018.1,403.6 L1018.7,403.5 L1019.4,403.0 L1020.0,402.0 L1021.8,400.6 L1022.5,398.9 L1023.1,397.1 L1023.7,395.4 L1024.3,394.0 L1026.2,392.9 L1026.8,391.4 L1027.4,390.4 L1028.0,389.7 L1028.7,389.3 L1030.5,388.2 L1031.1,386.3 L1031.8,383.9 L1032.4,379.3 L1033.0,374.9 L1034.8,370.5 L1035.5,366.6 L1036.1,362.9 L1036.7,360.0 L1037.3,357.3 L1039.2,354.9 L1039.8,351.3 L1040.4,346.6 L1041.0,342.5 L1041.7,338.8 L1043.5,334.9 L1044.1,331.2 L1044.8,327.7 L1045.4,324.2 L1046.0,322.0 L1047.9,320.6 L1048.5,319.8 L1049.1,319.5 L1049.7,319.5 L1050.3,319.3 L1052.2,319.0 L1052.8,318.7 L1053.4,318.2 L1054.1,318.0 L1054.7,317.7 L1056.5,317.2 L1057.2,316.2 L1057.8,315.4 L1058.4,314.3 L1059.0,312.9 L1060.9,311.2 L1061.5,309.3 L1062.1,307.1 L1062.7,305.7 L1063.4,305.1 L1065.2,305.1 L1065.8,305.0 L1066.4,305.1 L1067.1,305.0 L1067.7,304.6 L1069.5,303.9 L1070.2,303.5 L1070.8,303.3 L1071.4,303.3 L1072.0,303.3 L1073.9,303.5 L1074.5,303.7 L1075.1,304.3 L1075.7,305.0 L1076.4,305.7 L1078.2,305.9 L1078.8,306.1 L1079.5,306.0 L1080.1,305.8 L1080.7,305.3 L1082.6,304.9 L1083.2,304.2 L1083.8,303.3 L1084.4,301.9 L1085.0,299.0 L1086.9,294.7 L1087.5,290.6 L1088.1,286.4 L1088.8,282.5 L1089.4,278.4 L1091.2,274.6 L1091.9,269.0 L1092.5,261.6 L1093.1,254.3 L1093.7,247.3 L1095.6,240.5 L1096.2,233.8 L1096.8,227.3 L1097.4,221.4 L1098.0,216.4 L1099.9,211.5 L1100.5,207.4 L1101.1,204.1 L1101.8,201.8 L1102.4,200.0 L1104.2,199.9 L1104.9,201.1 L1105.5,201.0 L1106.1,200.5 L1106.7,199.8 L1108.6,197.5 L1109.2,193.2 L1109.8,188.3 L1110.4,182.7 L1111.1,178.8 L1112.9,175.6 L1113.5,172.2 L1114.2,168.3 L1114.8,165.4 L1115.4,163.6 L1117.3,163.4 L1117.9,165.5 L1118.5,167.9 L1119.1,170.8 L1119.7,171.8 L1121.6,176.0 L1122.2,181.2 L1122.8,187.2 L1123.5,192.5 L1124.1,197.4 L1125.9,200.3 L1126.6,202.2 L1127.2,203.1 L1127.8,203.6 L1128.4,203.8 L1130.3,204.1 L1130.9,204.3 L1131.5,204.1 L1132.1,204.2 L1132.7,203.8 L1134.6,203.5 L1135.2,202.9 L1135.8,202.1 L1136.5,201.1 L1137.1,200.1 L1138.9,198.9 L1139.6,197.1 L1140.2,195.3 L1140.8,193.6 L1141.4,192.5 L1143.3,191.7 L1143.9,191.1 L1144.5,190.5 L1145.1,190.1 L1145.8,189.5 L1147.6,188.8 L1148.2,188.6 L1148.9,188.5 L1149.5,188.6 L1150.1,188.9 L1152.0,189.6 L1152.6,190.2 L1153.2,191.0 L1153.8,192.0 L1154.4,193.0 L1156.3,194.4 L1156.9,196.3 L1157.5,199.0 L1158.2,202.1 L1158.8,205.1 L1160.6,208.1 L1161.2,211.6 L1161.9,215.4 L1162.5,218.1 L1163.1,219.6 L1165.0,220.3 L1165.6,220.5 L1166.2,220.2 L1166.8,219.6 L1167.4,218.6 L1169.3,218.6 L1169.9,218.9 L1170.5,219.6 L1171.2,220.1 L1171.8,220.8 L1173.6,221.9 L1174.3,223.6 L1174.9,225.4 L1175.5,226.2 L1176.1,226.5 L1178.0,226.4 L1178.6,225.7 L1179.2,222.3 L1179.8,219.3 L1180.5,217.0 L1182.3,214.4 L1182.9,209.0 L1183.6,204.4 L1184.2,200.3 L1184.8,195.3 L1186.7,189.3 L1187.3,183.3 L1187.9,177.4 L1188.5,172.1 L1189.1,167.8 L1191.0,165.2 L1191.6,161.8 L1192.2,158.4 L1192.8,155.3 L1193.5,152.3 L1195.3,149.8 L1195.9,148.1 L1196.6,147.0 L1197.2,146.4 L1197.8,146.2 L1199.7,146.3 L1200.3,146.6 L1200.9,147.2 L1201.5,147.9 L1202.1,147.6 L1204.0,147.0 L1204.6,146.3 L1205.2,147.1 L1205.9,152.1 L1206.5,155.7 L1208.3,159.5 L1209.0,163.6 L1209.6,168.0 L1210.2,172.7 L1210.8,175.7 L1212.7,178.5 L1213.3,181.0 L1213.9,186.8 L1214.5,195.8 L1215.2,202.4 L1217.0,207.9 L1217.6,212.7 L1218.3,216.3 L1218.9,218.8 L1219.5,220.2 L1221.3,219.4 L1222.0,217.9 L1222.6,216.0 L1223.2,214.5 L1223.8,213.5 L1225.7,213.8 L1226.3,214.3 L1226.9,215.5 L1227.5,217.1 L1228.2,219.3 L1230.0,221.5 L1230.6,223.4 L1231.3,225.3 L1231.9,227.4 L1232.5,229.4 L1234.4,231.0 L1235.0,231.9 L1235.6,232.6 L1236.2,233.2 L1236.8,233.8 L1238.7,234.5 L1239.3,235.4 L1239.9,236.8 L1240.6,238.2 L1241.2,241.4 L1243.0,244.5 L1243.7,247.5 L1244.3,250.5 L1244.9,253.2 L1245.5,255.4 L1247.4,257.1 L1248.0,258.5 L1248.6,261.9 L1249.2,265.0 L1249.9,268.6 L1251.7,273.6 L1252.3,279.9 L1252.9,286.6 L1253.6,293.7 L1254.2,299.5 L1256.0,304.3 L1256.7,306.1 L1257.3,307.2 L1257.9,307.6 L1258.5,307.7 L1260.4,308.1 L1261.0,308.7 L1261.6,309.7 L1262.2,310.5 L1262.9,311.2 L1264.7,313.1 L1265.3,315.6 L1266.0,318.9 L1266.6,322.7 L1267.2,327.2 L1269.1,333.1 L1269.7,336.9 L1270.3,338.9 L1270.9,339.1 L1271.5,337.9 L1273.4,336.5 L1274.0,334.6 L1274.6,332.3 L1275.3,331.0 L1275.9,329.9 L1277.7,329.4 L1278.4,329.7 L1279.0,329.9 L1279.6,330.0 L1280.2,329.9 L1282.1,329.8 L1282.7,329.4 L1283.3,328.8 L1283.9,328.1 L1284.5,327.1 L1286.4,325.7 L1287.0,324.1 L1287.6,322.6 L1288.3,320.9 L1288.9,319.6 L1290.7,318.5 L1291.4,317.1 L1292.0,315.8 L1292.6,314.6 L1293.2,313.6 L1295.1,312.3 L1295.7,310.9 L1296.3,309.4 L1296.9,308.2 L1297.6,307.1 L1299.4,306.4 L1300.0,305.8 L1300.7,305.4 L1301.3,305.0 L1301.9,305.3 L1303.8,306.5 L1304.4,307.3 L1305.0,307.6 L1305.6,307.7 L1306.2,307.6 L1308.1,307.4 L1308.7,306.8 L1309.3,306.0 L1310.0,305.4 L1310.6,305.2 L1312.4,304.4 L1313.0,302.5 L1313.7,299.7 L1314.3,296.4 L1314.9,292.3 L1316.8,288.2 L1317.4,284.1 L1318.0,280.5 L1318.6,277.4 L1319.2,274.6 L1321.1,271.0 L1321.7,267.3 L1322.3,263.6 L1323.0,259.7 L1323.6,257.3 L1325.4,256.7 L1326.1,257.8 L1326.7,258.1 L1327.3,258.0 L1327.9,258.3 L1329.8,257.4 L1330.4,255.2 L1331.0,253.7 L1331.6,252.7 L1332.3,251.4 L1334.1,252.1 L1334.7,253.5 L1335.4,255.5 L1336.0,258.2 L1336.6,261.2 L1338.5,265.0 L1339.1,268.5 L1339.7,271.6 L1340.3,274.4 L1340.9,278.6 L1342.8,283.1 L1343.4,288.3 L1344.0,292.2 L1344.6,295.4 L1345.3,297.3 L1347.1,298.1 L1347.7,298.2 L1348.4,297.8 L1349.0,297.2 L1349.6,296.5 L1351.5,296.0 L1352.1,295.9 L1352.7,295.6 L1353.3,295.1 L1353.9,293.8 L1355.8,291.6 L1356.4,288.8 L1357.0,285.8 L1357.7,282.9 L1358.3,280.1 L1360.1,278.0 L1360.8,276.4 L1361.4,274.8 L1362.0,273.2 L1362.6,271.4 L1364.5,270.6 L1365.1,269.5 L1365.7,268.7 L1366.3,268.2 L1367.0,267.9 L1368.8,267.0 L1369.4,266.5 L1370.1,266.3 L1370.7,266.3 L1371.3,266.4 L1373.2,266.5 L1373.8,266.9 L1374.4,267.3 L1375.0,267.8 L1375.6,268.4 L1377.5,269.1 L1378.1,269.9 L1378.7,270.8 L1379.3,271.7 L1380.0,272.8 L1381.8,275.5 L1382.4,278.4 L1383.1,281.3 L1383.7,284.9 L1384.3,289.0 L1386.2,292.8 L1386.8,296.6 L1387.4,300.3 L1388.0,304.2 L1388.6,307.8 L1390.5,310.0 L1391.1,312.7 L1391.7,314.5 L1392.4,315.3 L1393.0,315.3 L1394.8,315.0 L1395.5,314.5 L1396.1,314.0 L1396.7,313.6 L1397.3,312.9 L1399.2,312.6 L1399.8,312.6 L1400.4,312.7 L1401.0,313.4 L1401.7,314.9 L1403.5,316.8 L1404.1,319.0 L1404.8,321.3 L1405.4,323.3 L1406.0,325.3 L1407.8,327.9 L1408.5,329.5 L1409.1,331.0 L1409.7,332.3 L1410.3,333.4 L1412.2,334.0 L1412.8,334.1 L1413.4,333.8 L1414.0,334.0 L1414.7,334.3 L1416.5,333.9 L1417.1,332.9 L1417.8,332.0 L1418.4,331.0 L1419.0,330.1 L1420.9,329.5 L1421.5,328.8 L1422.1,328.3 L1422.7,327.8 L1423.3,327.1 L1425.2,326.6 L1425.8,326.3 L1426.4,325.7 L1427.1,325.1 L1427.7,324.6 L1429.5,324.1 L1430.2,323.7 L1430.8,323.1 L1431.4,322.4 L1432.0,321.7 L1433.9,321.0 L1434.5,319.9 L1435.1,319.0 L1435.7,318.0 L1436.4,316.2 L1438.2,314.3 L1438.8,312.2 L1439.4,310.2 L1440.1,308.0 L1440.7,306.0 L1442.5,304.0 L1443.2,302.3 L1443.8,301.0 L1444.4,299.8 L1445.0,298.7 L1446.9,297.7 L1447.5,296.9 L1448.1,296.6 L1448.7,296.6 L1449.4,296.7 L1451.2,296.7 L1451.8,296.8 L1452.5,296.9 L1453.1,297.2 L1453.7,297.7 L1455.6,298.1 L1456.2,298.6 L1456.8,299.2 L1457.4,299.5 L1458.0,300.2 L1459.9,300.7 L1460.5,301.5 L1461.1,302.3 L1461.8,303.4 L1462.4,303.9 L1464.2,304.5 L1464.9,305.2 L1465.5,306.0 L1466.1,306.6 L1466.7,307.4 L1468.6,308.6 L1469.2,308.9 L1469.8,308.7 L1470.4,307.9 L1471.0,308.4 L1472.9,310.2 L1473.5,312.1 L1474.1,314.1 L1474.8,315.7 L1475.4,317.1 L1477.2,318.1 L1477.9,318.7 L1478.5,319.2 L1479.1,319.5 L1479.7,319.3 L1481.6,319.3 L1482.2,319.6 L1482.8,319.7 L1483.4,319.5 L1484.1,318.9 L1485.9,317.1 L1486.5,313.4 L1487.2,309.2 L1487.8,304.2 L1488.4,299.2 L1490.3,294.5 L1490.9,289.7 L1491.5,285.5 L1492.1,282.1 L1492.7,279.2 L1494.6,276.4 L1495.2,274.1 L1495.8,272.2 L1496.5,270.6 L1497.1,269.1 L1498.9,268.1 L1499.5,268.4 L1500.2,270.0 L1500.8,270.9 L1501.4,271.0 L1503.3,271.7 L1503.9,272.1 L1504.5,272.5 L1505.1,272.8 L1505.7,272.8 L1507.6,272.8 L1508.2,272.7 L1508.8,272.2 L1509.5,271.7 L1510.1,271.0 L1511.9,270.0 L1512.6,267.5 L1513.2,265.8 L1513.8,264.6 L1514.4,263.5 L1516.3,262.5 L1516.9,261.8 L1517.5,261.4 L1518.1,261.5 L1518.8,262.1 L1520.6,261.7 L1521.2,260.8 L1521.9,260.0 L1522.5,258.2 L1523.1,255.9 L1525.0,252.7 L1525.6,249.7 L1526.2,246.5 L1526.8,243.3 L1527.4,240.1 L1529.3,237.3 L1529.9,235.6 L1530.5,235.2 L1531.1,234.9 L1531.8,233.4 L1533.6,231.2 L1534.2,228.8 L1534.9,225.9 L1535.5,221.9 L1536.1,216.5 L1538.0,211.6 L1538.6,207.5 L1539.2,203.7 L1539.8,200.7 L1540.4,197.6 L1542.3,194.6 L1542.9,191.9 L1543.5,190.0 L1544.2,189.9 L1544.8,191.1 L1546.6,192.8 L1547.3,194.7 L1547.9,198.5 L1548.5,204.0 L1549.1,207.9 L1551.0,210.7 L1551.6,212.3 L1552.2,212.1 L1552.8,211.5 L1553.5,210.8 L1555.3,210.3 L1555.9,209.1 L1556.6,207.4 L1557.2,204.7 L1557.8,202.8 L1559.7,202.0 L1560.3,201.6 L1560.9,201.6 L1561.5,202.3" fill="none" stroke="#e74c3c" stroke-opacity="0.7" stroke-width="2.9" stroke-linejoin="round"/>
<path d="M238.7,584.6L248.2,603.6H229.2Z" fill="#27ae60" stroke="#000" stroke-width="2.6" stroke-linejoin="miter" stroke-miterlimit="10"/>
<path d="M291.7,603.7L301.2,622.7H282.2Z" fill="#27ae60" stroke="#000" stroke-width="2.6" stroke-linejoin="miter" stroke-miterlimit="10"/>
<path d="M298.1,595.3L307.6,614.3H288.6Z" fill="#27ae60" stroke="#000" stroke-width="2.6" stroke-linejoin="miter" stroke-miterlimit="10"/>
<path d="M402.3,483.7L411.8,502.7H392.8Z" fill="#27ae60" stroke="#000" stroke-width="2.6" stroke-linejoin="miter" stroke-miterlimit="10"/>
<path d="M512.3,260.4L521.8,279.4H502.8Z" fill="#27ae60" stroke="#000" stroke-width="2.6" stroke-linejoin="miter" stroke-miterlimit="10"/>
<path d="M582.3,232.0L591.8,251.0H572.8Z" fill="#27ae60" stroke="#000" stroke-width="2.6" stroke-linejoin="miter" stroke-miterlimit="10"/>
<path d="M598.2,238.5L607.7,257.5H588.7Z" fill="#27ae60" stroke="#000" stroke-width="2.6" stroke-linejoin="miter" stroke-miterlimit="10"/>
<path d="M641.6,207.3L651.1,226.3H632.1Z" fill="#27ae60" stroke="#000" stroke-width="2.6" stroke-linejoin="miter" stroke-miterlimit="10"/>
<path d="M659.5,224.7L669.0,243.7H650.0Z" fill="#27ae60" stroke="#000" stroke-width="2.6" stroke-linejoin="miter" stroke-miterlimit="10"/>
<path d="M662.2,211.9L671.7,230.9H652.7Z" fill="#27ae60" stroke="#000" stroke-width="2.6" stroke-linejoin="miter" stroke-miterlimit="10"/>
<path d="M693.3,168.0L702.8,187.0H683.8Z" fill="#27ae60" stroke="#000" stroke-width="2.6" stroke-linejoin="miter" stroke-miterlimit="10"/>
<path d="M731.6,194.3L741.1,213.3H722.1Z" fill="#27ae60" stroke="#000" stroke-width="2.6" stroke-linejoin="miter" stroke-miterlimit="10"/>
<path d="M746.6,187.2L756.1,206.2H737.1Z" fill="#27ae60" stroke="#000" stroke-width="2.6" stroke-linejoin="miter" stroke-miterlimit="10"/>
<path d="M832.7,349.4L842.2,368.4H823.2Z" fill="#27ae60" stroke="#000" stroke-width="2.6" stroke-linejoin="miter" stroke-miterlimit="10"/>
<path d="M903.3,490.8L912.8,509.8H893.8Z" fill="#27ae60" stroke="#000" stroke-width="2.6" stroke-linejoin="miter" stroke-miterlimit="10"/>
<path d="M980.6,408.5L990.1,427.5H971.1Z" fill="#27ae60" stroke="#000" stroke-width="2.6" stroke-linejoin="miter" stroke-miterlimit="10"/>
<path d="M1078.7,291.5L1088.2,310.5H1069.2Z" fill="#27ae60" stroke="#000" stroke-width="2.6" stroke-linejoin="miter" stroke-miterlimit="10"/>
<path d="M1136.3,185.5L1145.8,204.5H1126.8Z" fill="#27ae60" stroke="#000" stroke-width="2.6" stroke-linejoin="miter" stroke-miterlimit="10"/>
<path d="M1178.4,195.5L1187.9,214.5H1168.9Z" fill="#27ae60" stroke="#000" stroke-width="2.6" stroke-linejoin="miter" stroke-miterlimit="10"/>
<path d="M1223.1,170.2L1232.6,189.2H1213.6Z" fill="#27ae60" stroke="#000" stroke-width="2.6" stroke-linejoin="miter" stroke-miterlimit="10"/>
<path d="M1275.4,282.4L1284.9,301.4H1265.9Z" fill="#27ae60" stroke="#000" stroke-width="2.6" stroke-linejoin="miter" stroke-miterlimit="10"/>
<path d="M1284.5,301.3L1294.0,320.3H1275.0Z" fill="#27ae60" stroke="#000" stroke-width="2.6" stroke-linejoin="miter" stroke-miterlimit="10"/>
<path d="M1350.5,264.3L1360.0,283.3H1341.0Z" fill="#27ae60" stroke="#000" stroke-width="2.6" stroke-linejoin="miter" stroke-miterlimit="10"/>
<path d="M1395.8,283.3L1405.3,302.3H1386.3Z" fill="#27ae60" stroke="#000" stroke-width="2.6" stroke-linejoin="miter" stroke-miterlimit="10"/>
<path d="M1419.0,297.5L1428.5,316.5H1409.5Z" fill="#27ae60" stroke="#000" stroke-width="2.6" stroke-linejoin="miter" stroke-miterlimit="10"/>
<path d="M1432.7,307.5L1442.2,326.5H1423.2Z" fill="#27ae60" stroke="#000" stroke-width="2.6" stroke-linejoin="miter" stroke-miterlimit="10"/>
<path d="M1483.5,292.9L1493.0,311.9H1474.0Z" fill="#27ae60" stroke="#000" stroke-width="2.6" stroke-linejoin="miter" stroke-miterlimit="10"/>
<path d="M1508.6,244.4L1518.1,263.4H1499.1Z" fill="#27ae60" stroke="#000" stroke-width="2.6" stroke-linejoin="miter" stroke-miterlimit="10"/>
<path d="M1556.6,166.3L1566.1,185.3H1547.1Z" fill="#27ae60" stroke="#000" stroke-width="2.6" stroke-linejoin="miter" stroke-miterlimit="10"/>
<path d="M238.4,563.9L258.0,583.5M238.4,583.5L258.0,563.9" stroke="#c0392b" stroke-width="4" fill="none"/>
<path d="M354.7,472.4L374.3,492.0M354.7,492.0L374.3,472.4" stroke="#c0392b" stroke-width="4" fill="none"/>
<path d="M468.7,188.8L488.3,208.4M468.7,208.4L488.3,188.8" stroke="#c0392b" stroke-width="4" fill="none"/>
<path d="M672.5,208.9L692.1,228.5M672.5,228.5L692.1,208.9" stroke="#c0392b" stroke-width="4" fill="none"/>
<path d="M761.9,204.7L781.5,224.3M761.9,224.3L781.5,204.7" stroke="#c0392b" stroke-width="4" fill="none"/>
<path d="M844.7,339.7L864.3,359.3M844.7,359.3L864.3,339.7" stroke="#c0392b" stroke-width="4" fill="none"/>
<path d="M900.4,536.2L920.0,555.8M900.4,555.8L920.0,536.2" stroke="#c0392b" stroke-width="4" fill="none"/>
<path d="M1038.8,313.2L1058.4,332.8M1038.8,332.8L1058.4,313.2" stroke="#c0392b" stroke-width="4" fill="none"/>
<path d="M1092.3,167.7L1111.9,187.3M1092.3,187.3L1111.9,167.7" stroke="#c0392b" stroke-width="4" fill="none"/>
<path d="M1181.9,178.7L1201.5,198.3M1181.9,198.3L1201.5,178.7" stroke="#c0392b" stroke-width="4" fill="none"/>
<path d="M1217.4,234.8L1237.0,254.4M1217.4,254.4L1237.0,234.8" stroke="#c0392b" stroke-width="4" fill="none"/>
<path d="M1268.4,335.5L1288.0,355.1M1268.4,355.1L1288.0,335.5" stroke="#c0392b" stroke-width="4" fill="none"/>
<path d="M1316.5,240.5L1336.1,260.1M1316.5,260.1L1336.1,240.5" stroke="#c0392b" stroke-width="4" fill="none"/>
<path d="M1489.5,267.5L1509.1,287.1M1489.5,287.1L1509.1,267.5" stroke="#c0392b" stroke-width="4" fill="none"/>
<path d="M1534.6,171.6L1554.2,191.2M1534.6,191.2L1554.2,171.6" stroke="#c0392b" stroke-width="4" fill="none"/>
<path d="M1551.8,203.6L1571.4,223.2M1551.8,223.2L1571.4,203.6" stroke="#c0392b" stroke-width="4" fill="none"/>
<path d="M294.5,646.3L304.0,627.3H285.0Z" fill="#e74c3c" stroke="#000" stroke-width="2.6" stroke-linejoin="miter" stroke-miterlimit="10"/>
<path d="M567.4,256.5L576.9,237.5H557.9Z" fill="#e74c3c" stroke="#000" stroke-width="2.6" stroke-linejoin="miter" stroke-miterlimit="10"/>
<path d="M584.5,256.5L594.0,237.5H575.0Z" fill="#e74c3c" stroke="#000" stroke-width="2.6" stroke-linejoin="miter" stroke-miterlimit="10"/>
<path d="M637.3,248.8L646.8,229.8H627.8Z" fill="#e74c3c" stroke="#000" stroke-width="2.6" stroke-linejoin="miter" stroke-miterlimit="10"/>
<path d="M646.7,261.1L656.2,242.1H637.2Z" fill="#e74c3c" stroke="#000" stroke-width="2.6" stroke-linejoin="miter" stroke-miterlimit="10"/>
<path d="M659.7,255.8L669.2,236.8H650.2Z" fill="#e74c3c" stroke="#000" stroke-width="2.6" stroke-linejoin="miter" stroke-miterlimit="10"/>
<path d="M708.8,210.4L718.3,191.4H699.3Z" fill="#e74c3c" stroke="#000" stroke-width="2.6" stroke-linejoin="miter" stroke-miterlimit="10"/>
<path d="M742.4,225.4L751.9,206.4H732.9Z" fill="#e74c3c" stroke="#000" stroke-width="2.6" stroke-linejoin="miter" stroke-miterlimit="10"/>
<path d="M1152.5,213.8L1162.0,194.8H1143.0Z" fill="#e74c3c" stroke="#000" stroke-width="2.6" stroke-linejoin="miter" stroke-miterlimit="10"/>
<path d="M1374.5,293.7L1384.0,274.7H1365.0Z" fill="#e74c3c" stroke="#000" stroke-width="2.6" stroke-linejoin="miter" stroke-miterlimit="10"/>
<path d="M1403.5,329.5L1413.0,310.5H1394.0Z" fill="#e74c3c" stroke="#000" stroke-width="2.6" stroke-linejoin="miter" stroke-miterlimit="10"/>
<path d="M1426.3,341.1L1435.8,322.1H1416.8Z" fill="#e74c3c" stroke="#000" stroke-width="2.6" stroke-linejoin="miter" stroke-miterlimit="10"/>
<path d="M1452.8,318.6L1462.3,299.6H1443.3Z" fill="#e74c3c" stroke="#000" stroke-width="2.6" stroke-linejoin="miter" stroke-miterlimit="10"/>
</g>
<rect x="81.5" y="47.5" width="1550.0" height="770.0" fill="none" stroke="#000" stroke-width="1.1"/>
<path d="M151.5,817.5v5.3M378.5,817.5v5.3M604.5,817.5v5.3M830.5,817.5v5.3M1056.5,817.5v5.3M1283.5,817.5v5.3M1509.5,817.5v5.3M81.5,714.5h-5.3M81.5,569.5h-5.3M81.5,424.5h-5.3M81.5,280.5h-5.3M81.5,135.5h-5.3" stroke="#000" stroke-width="1.1" fill="none"/>
<g opacity="0.999">
<text x="70.4" y="719.6" font-size="13.9" text-anchor="end" fill="#111">4,000</text>
<text x="70.4" y="574.6" font-size="13.9" text-anchor="end" fill="#111">4,500</text>
<text x="70.4" y="429.6" font-size="13.9" text-anchor="end" fill="#111">5,000</text>
<text x="70.4" y="285.6" font-size="13.9" text-anchor="end" fill="#111">5,500</text>
<text x="70.4" y="140.6" font-size="13.9" text-anchor="end" fill="#111">6,000</text>
<text transform="translate(148.0,836.1) rotate(-45)" font-size="13.9" text-anchor="end" textLength="90.5" fill="#000">2020-01-01</text>
<text transform="translate(374.8,836.1) rotate(-45)" font-size="13.9" text-anchor="end" textLength="90.5" fill="#000">2021-01-01</text>
<text transform="translate(600.9,836.1) rotate(-45)" font-size="13.9" text-anchor="end" textLength="90.5" fill="#000">2022-01-01</text>
<text transform="translate(827.1,836.1) rotate(-45)" font-size="13.9" text-anchor="end" textLength="90.5" fill="#000">2023-01-01</text>
<text transform="translate(1053.2,836.1) rotate(-45)" font-size="13.9" text-anchor="end" textLength="90.5" fill="#000">2024-01-01</text>
<text transform="translate(1280.0,836.1) rotate(-45)" font-size="13.9" text-anchor="end" textLength="90.5" fill="#000">2025-01-01</text>
<text transform="translate(1506.2,836.1) rotate(-45)" font-size="13.9" text-anchor="end" textLength="90.5" fill="#000">2026-01-01</text>
<text x="855.8" y="918" font-size="14.8" text-anchor="middle" textLength="30" lengthAdjust="spacingAndGlyphs" fill="#111">날짜</text>
<text transform="translate(20.5,434.6) rotate(-90)" font-size="14.8" text-anchor="middle" textLength="65" lengthAdjust="spacingAndGlyphs" fill="#000">가격 (원)</text>
<text x="604.8" y="26.5" font-size="19.6" textLength="174.5" lengthAdjust="spacingAndGlyphs" fill="#111">매수/매도 시점 분석</text>
<text x="788.3" y="26.5" font-size="19.6" textLength="320" lengthAdjust="spacingAndGlyphs" fill="#111">(short=7, long=30, stop_loss=3%)</text>
<rect x="88.5" y="54.5" width="296" height="67" rx="2.8" fill="#fff" fill-opacity="0.8" stroke="#ccc" stroke-opacity="0.8" stroke-width="1.1"/>
<line x1="93" x2="124" y1="66.5" y2="66.5" stroke="#2c3e50" stroke-opacity="0.8" stroke-width="2.0"/>
<text x="133.6" y="71.1" font-size="14" textLength="26.3" lengthAdjust="spacingAndGlyphs" fill="#111">종가</text>
<line x1="93" x2="124" y1="87.5" y2="87.5" stroke="#3498db" stroke-opacity="0.7" stroke-width="2.7"/>
<text x="133.6" y="92.1" font-size="14" textLength="84.4" lengthAdjust="spacingAndGlyphs" fill="#111">단기 EMA(7)</text>
<line x1="93" x2="124" y1="108.5" y2="108.5" stroke="#e74c3c" stroke-opacity="0.7" stroke-width="2.7"/>
<text x="133.6" y="113.1" font-size="14" textLength="93.4" lengthAdjust="spacingAndGlyphs" fill="#111">장기 EMA(30)</text>
<path d="M270.4,57.7L279.9,76.7H260.9Z" fill="#27ae60" stroke="#000" stroke-width="2.6" stroke-linejoin="miter" stroke-miterlimit="10"/>
<path d="M260.6,78.0L280.2,97.6M260.6,97.6L280.2,78.0" stroke="#c0392b" stroke-width="4" fill="none"/>
<path d="M270.4,118.1L279.9,99.1H260.9Z" fill="#e74c3c" stroke="#000" stroke-width="2.6" stroke-linejoin="miter" stroke-miterlimit="10"/>
<text x="296.7" y="71.1" font-size="14" textLength="25.3" lengthAdjust="spacingAndGlyphs" fill="#111">매수</text>
<text x="296.7" y="92.1" font-size="14" textLength="65.8" lengthAdjust="spacingAndGlyphs" fill="#111">매도(손절)</text>
<text x="296.7" y="113.1" font-size="14" textLength="80" lengthAdjust="spacingAndGlyphs" fill="#111">매도(시그널)</text>
</g></svg></body></html>
